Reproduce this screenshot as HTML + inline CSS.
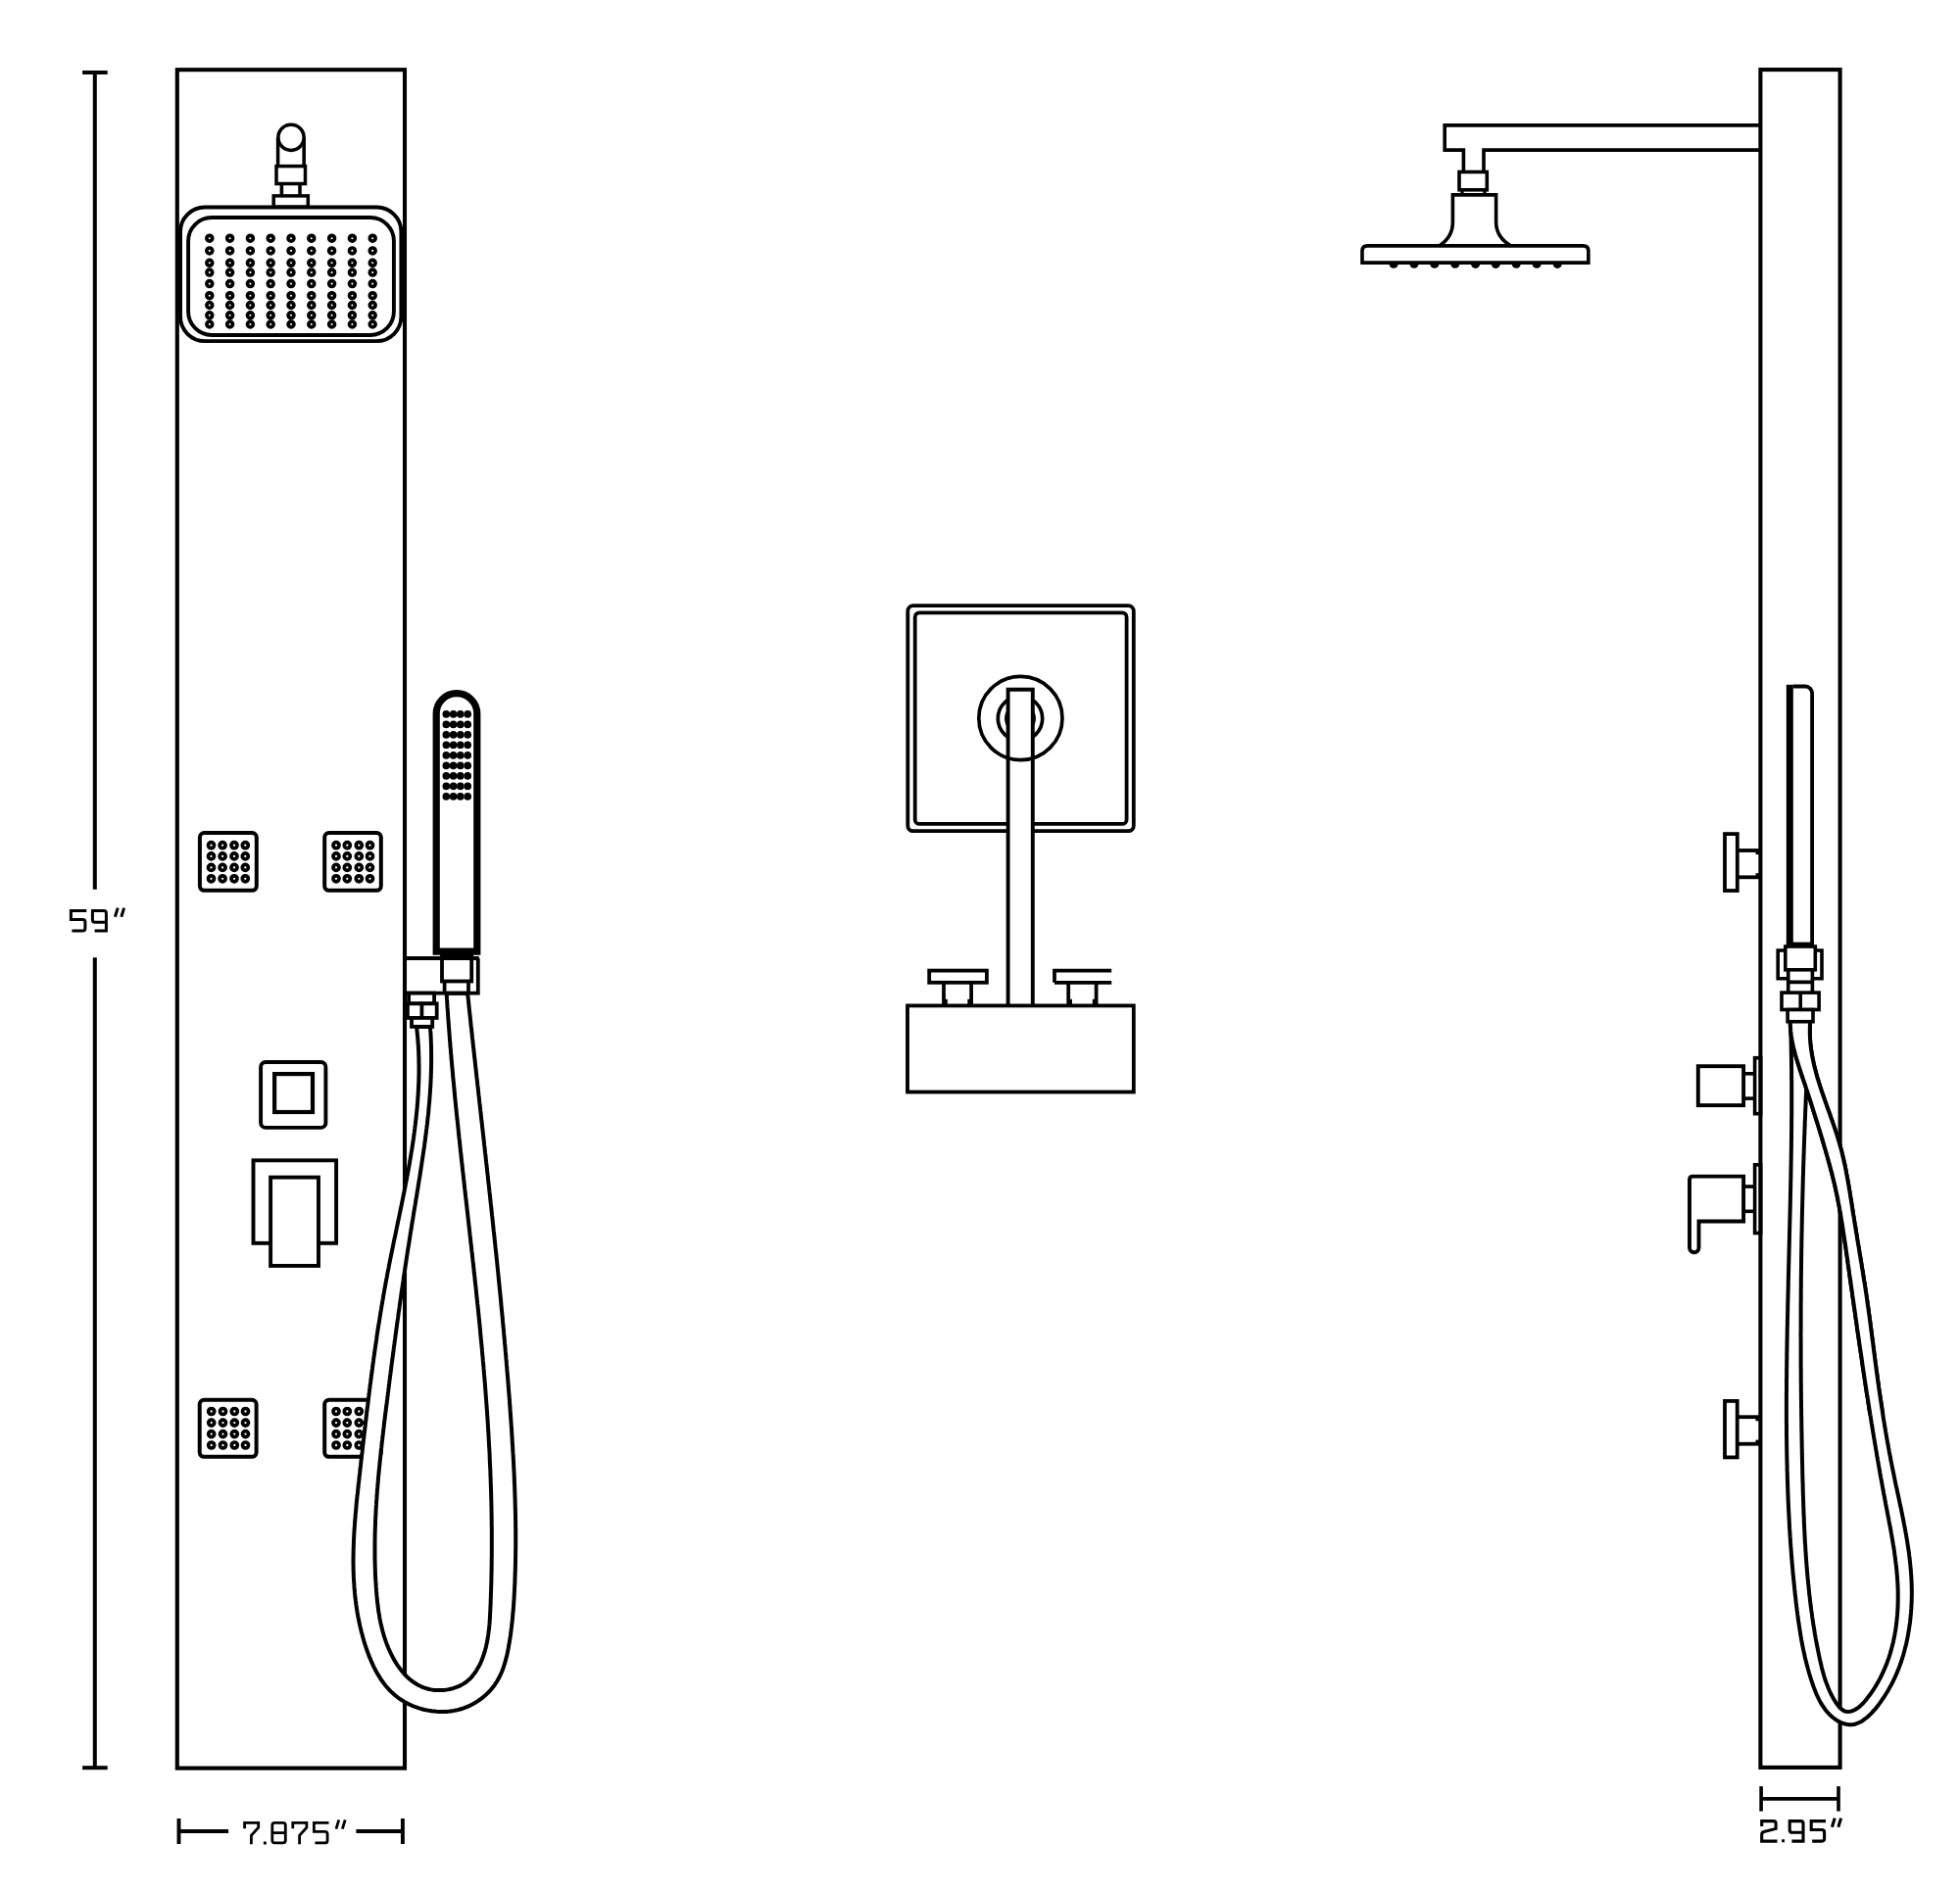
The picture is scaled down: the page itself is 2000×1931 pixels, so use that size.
<!DOCTYPE html>
<html><head><meta charset="utf-8"><title>Shower panel diagram</title>
<style>html,body{margin:0;padding:0;background:#fff;}svg{display:block;}</style></head>
<body><svg width="2000" height="1931" viewBox="0 0 2000 1931">
<rect x="0" y="0" width="2000" height="1931" fill="#fff"/>
<g stroke="#000" stroke-linecap="butt" stroke-linejoin="miter" fill="none">
<line x1="96.8" y1="74" x2="96.8" y2="907.7" stroke-width="4"/>
<line x1="96.8" y1="977.3" x2="96.8" y2="1804.2" stroke-width="4"/>
<line x1="84.1" y1="74" x2="109.7" y2="74" stroke-width="4"/>
<line x1="84.1" y1="1804.2" x2="109.7" y2="1804.2" stroke-width="4"/>
<path d="M88.3,929.6 H72.4 V938.5 H84.4 Q86.9,938.5 86.9,941 V947.6 Q86.9,950.1 84.4,950.1 H73.4 M93,929.6 H105.9 Q108.4,929.6 108.4,932.1 V950.1 H96.6 M94.4,929.6 V938.7 Q94.4,941.3 96.9,941.3 H108.4 M120.2,926.6 L117.4,935.8 M126.6,926.6 L123.8,935.8" fill="none" stroke-width="3"/>
<rect x="180.8" y="71.2" width="232.2" height="1733.4" fill="none" stroke-width="4.1"/>
<line x1="182.5" y1="1856" x2="182.5" y2="1882" stroke-width="3.9"/>
<line x1="410.9" y1="1856" x2="410.9" y2="1882" stroke-width="3.9"/>
<line x1="182.5" y1="1869" x2="233.1" y2="1869" stroke-width="3.9"/>
<line x1="363.4" y1="1869" x2="410.9" y2="1869" stroke-width="3.9"/>
<path d="M249.6,1866.3 V1860.4 H263.7 V1865.3 L256.4,1873.3 V1882.3 M268.9,1881 h2.9 M280.3,1860.4 H288.7 Q291.3,1860.4 291.3,1863 V1878.3 Q291.3,1880.9 288.7,1880.9 H280.3 Q277.8,1880.9 277.8,1878.3 V1863 Q277.8,1860.4 280.3,1860.4 Z M277.8,1870.6 H291.3 M298.8,1866.3 V1860.4 H312.9 V1865.3 L305.6,1873.3 V1882.3 M335.5,1860.4 H320.4 V1869.3 H331.6 Q334.1,1869.3 334.1,1871.8 V1878.4 Q334.1,1880.9 331.6,1880.9 H321.4 M345.8,1857.4 L343,1866.6 M352.2,1857.4 L349.4,1866.6" fill="none" stroke-width="2.8"/>
<path d="M283.6,140.3 V169.6 M310.2,140.3 V169.6" fill="none" stroke-width="3.55"/>
<circle cx="297" cy="140.3" r="13.1" fill="#fff" stroke-width="3.55"/>
<rect x="282" y="169.6" width="29.5" height="17.9" fill="none" stroke-width="3.5"/>
<path d="M287.4,187.5 V199.9 M306,187.5 V199.9" fill="none" stroke-width="3.55"/>
<rect x="279.2" y="199.9" width="35.1" height="11.3" fill="none" stroke-width="3.5"/>
<rect x="184" y="211.5" width="225.4" height="136.6" rx="25" fill="#fff" stroke-width="3.9"/>
<rect x="192.1" y="222" width="209.8" height="120" rx="24" fill="none" stroke-width="3.9"/>
<circle cx="213.8" cy="243.2" r="2.9" fill="none" stroke-width="3.7"/>
<circle cx="213.8" cy="255.9" r="2.9" fill="none" stroke-width="3.7"/>
<circle cx="213.8" cy="268.3" r="2.9" fill="none" stroke-width="3.7"/>
<circle cx="213.8" cy="278.1" r="2.9" fill="none" stroke-width="3.7"/>
<circle cx="213.8" cy="289.6" r="2.9" fill="none" stroke-width="3.7"/>
<circle cx="213.8" cy="301.7" r="2.9" fill="none" stroke-width="3.7"/>
<circle cx="213.8" cy="311.5" r="2.9" fill="none" stroke-width="3.7"/>
<circle cx="213.8" cy="321.8" r="2.9" fill="none" stroke-width="3.7"/>
<circle cx="213.8" cy="331" r="2.9" fill="none" stroke-width="3.7"/>
<circle cx="234.6" cy="243.2" r="2.9" fill="none" stroke-width="3.7"/>
<circle cx="234.6" cy="255.9" r="2.9" fill="none" stroke-width="3.7"/>
<circle cx="234.6" cy="268.3" r="2.9" fill="none" stroke-width="3.7"/>
<circle cx="234.6" cy="278.1" r="2.9" fill="none" stroke-width="3.7"/>
<circle cx="234.6" cy="289.6" r="2.9" fill="none" stroke-width="3.7"/>
<circle cx="234.6" cy="301.7" r="2.9" fill="none" stroke-width="3.7"/>
<circle cx="234.6" cy="311.5" r="2.9" fill="none" stroke-width="3.7"/>
<circle cx="234.6" cy="321.8" r="2.9" fill="none" stroke-width="3.7"/>
<circle cx="234.6" cy="331" r="2.9" fill="none" stroke-width="3.7"/>
<circle cx="255.4" cy="243.2" r="2.9" fill="none" stroke-width="3.7"/>
<circle cx="255.4" cy="255.9" r="2.9" fill="none" stroke-width="3.7"/>
<circle cx="255.4" cy="268.3" r="2.9" fill="none" stroke-width="3.7"/>
<circle cx="255.4" cy="278.1" r="2.9" fill="none" stroke-width="3.7"/>
<circle cx="255.4" cy="289.6" r="2.9" fill="none" stroke-width="3.7"/>
<circle cx="255.4" cy="301.7" r="2.9" fill="none" stroke-width="3.7"/>
<circle cx="255.4" cy="311.5" r="2.9" fill="none" stroke-width="3.7"/>
<circle cx="255.4" cy="321.8" r="2.9" fill="none" stroke-width="3.7"/>
<circle cx="255.4" cy="331" r="2.9" fill="none" stroke-width="3.7"/>
<circle cx="276.2" cy="243.2" r="2.9" fill="none" stroke-width="3.7"/>
<circle cx="276.2" cy="255.9" r="2.9" fill="none" stroke-width="3.7"/>
<circle cx="276.2" cy="268.3" r="2.9" fill="none" stroke-width="3.7"/>
<circle cx="276.2" cy="278.1" r="2.9" fill="none" stroke-width="3.7"/>
<circle cx="276.2" cy="289.6" r="2.9" fill="none" stroke-width="3.7"/>
<circle cx="276.2" cy="301.7" r="2.9" fill="none" stroke-width="3.7"/>
<circle cx="276.2" cy="311.5" r="2.9" fill="none" stroke-width="3.7"/>
<circle cx="276.2" cy="321.8" r="2.9" fill="none" stroke-width="3.7"/>
<circle cx="276.2" cy="331" r="2.9" fill="none" stroke-width="3.7"/>
<circle cx="297" cy="243.2" r="2.9" fill="none" stroke-width="3.7"/>
<circle cx="297" cy="255.9" r="2.9" fill="none" stroke-width="3.7"/>
<circle cx="297" cy="268.3" r="2.9" fill="none" stroke-width="3.7"/>
<circle cx="297" cy="278.1" r="2.9" fill="none" stroke-width="3.7"/>
<circle cx="297" cy="289.6" r="2.9" fill="none" stroke-width="3.7"/>
<circle cx="297" cy="301.7" r="2.9" fill="none" stroke-width="3.7"/>
<circle cx="297" cy="311.5" r="2.9" fill="none" stroke-width="3.7"/>
<circle cx="297" cy="321.8" r="2.9" fill="none" stroke-width="3.7"/>
<circle cx="297" cy="331" r="2.9" fill="none" stroke-width="3.7"/>
<circle cx="317.8" cy="243.2" r="2.9" fill="none" stroke-width="3.7"/>
<circle cx="317.8" cy="255.9" r="2.9" fill="none" stroke-width="3.7"/>
<circle cx="317.8" cy="268.3" r="2.9" fill="none" stroke-width="3.7"/>
<circle cx="317.8" cy="278.1" r="2.9" fill="none" stroke-width="3.7"/>
<circle cx="317.8" cy="289.6" r="2.9" fill="none" stroke-width="3.7"/>
<circle cx="317.8" cy="301.7" r="2.9" fill="none" stroke-width="3.7"/>
<circle cx="317.8" cy="311.5" r="2.9" fill="none" stroke-width="3.7"/>
<circle cx="317.8" cy="321.8" r="2.9" fill="none" stroke-width="3.7"/>
<circle cx="317.8" cy="331" r="2.9" fill="none" stroke-width="3.7"/>
<circle cx="338.6" cy="243.2" r="2.9" fill="none" stroke-width="3.7"/>
<circle cx="338.6" cy="255.9" r="2.9" fill="none" stroke-width="3.7"/>
<circle cx="338.6" cy="268.3" r="2.9" fill="none" stroke-width="3.7"/>
<circle cx="338.6" cy="278.1" r="2.9" fill="none" stroke-width="3.7"/>
<circle cx="338.6" cy="289.6" r="2.9" fill="none" stroke-width="3.7"/>
<circle cx="338.6" cy="301.7" r="2.9" fill="none" stroke-width="3.7"/>
<circle cx="338.6" cy="311.5" r="2.9" fill="none" stroke-width="3.7"/>
<circle cx="338.6" cy="321.8" r="2.9" fill="none" stroke-width="3.7"/>
<circle cx="338.6" cy="331" r="2.9" fill="none" stroke-width="3.7"/>
<circle cx="359.4" cy="243.2" r="2.9" fill="none" stroke-width="3.7"/>
<circle cx="359.4" cy="255.9" r="2.9" fill="none" stroke-width="3.7"/>
<circle cx="359.4" cy="268.3" r="2.9" fill="none" stroke-width="3.7"/>
<circle cx="359.4" cy="278.1" r="2.9" fill="none" stroke-width="3.7"/>
<circle cx="359.4" cy="289.6" r="2.9" fill="none" stroke-width="3.7"/>
<circle cx="359.4" cy="301.7" r="2.9" fill="none" stroke-width="3.7"/>
<circle cx="359.4" cy="311.5" r="2.9" fill="none" stroke-width="3.7"/>
<circle cx="359.4" cy="321.8" r="2.9" fill="none" stroke-width="3.7"/>
<circle cx="359.4" cy="331" r="2.9" fill="none" stroke-width="3.7"/>
<circle cx="380.2" cy="243.2" r="2.9" fill="none" stroke-width="3.7"/>
<circle cx="380.2" cy="255.9" r="2.9" fill="none" stroke-width="3.7"/>
<circle cx="380.2" cy="268.3" r="2.9" fill="none" stroke-width="3.7"/>
<circle cx="380.2" cy="278.1" r="2.9" fill="none" stroke-width="3.7"/>
<circle cx="380.2" cy="289.6" r="2.9" fill="none" stroke-width="3.7"/>
<circle cx="380.2" cy="301.7" r="2.9" fill="none" stroke-width="3.7"/>
<circle cx="380.2" cy="311.5" r="2.9" fill="none" stroke-width="3.7"/>
<circle cx="380.2" cy="321.8" r="2.9" fill="none" stroke-width="3.7"/>
<circle cx="380.2" cy="331" r="2.9" fill="none" stroke-width="3.7"/>
<rect x="203.9" y="850" width="57.9" height="58.8" rx="4.5" fill="none" stroke-width="4"/>
<circle cx="215.5" cy="862.7" r="3" fill="none" stroke-width="3.7"/>
<circle cx="215.5" cy="873.9" r="3" fill="none" stroke-width="3.7"/>
<circle cx="215.5" cy="885.4" r="3" fill="none" stroke-width="3.7"/>
<circle cx="215.5" cy="896.8" r="3" fill="none" stroke-width="3.7"/>
<circle cx="227.1" cy="862.7" r="3" fill="none" stroke-width="3.7"/>
<circle cx="227.1" cy="873.9" r="3" fill="none" stroke-width="3.7"/>
<circle cx="227.1" cy="885.4" r="3" fill="none" stroke-width="3.7"/>
<circle cx="227.1" cy="896.8" r="3" fill="none" stroke-width="3.7"/>
<circle cx="239" cy="862.7" r="3" fill="none" stroke-width="3.7"/>
<circle cx="239" cy="873.9" r="3" fill="none" stroke-width="3.7"/>
<circle cx="239" cy="885.4" r="3" fill="none" stroke-width="3.7"/>
<circle cx="239" cy="896.8" r="3" fill="none" stroke-width="3.7"/>
<circle cx="250.3" cy="862.7" r="3" fill="none" stroke-width="3.7"/>
<circle cx="250.3" cy="873.9" r="3" fill="none" stroke-width="3.7"/>
<circle cx="250.3" cy="885.4" r="3" fill="none" stroke-width="3.7"/>
<circle cx="250.3" cy="896.8" r="3" fill="none" stroke-width="3.7"/>
<rect x="331.2" y="850" width="57.6" height="58.8" rx="4.5" fill="none" stroke-width="4"/>
<circle cx="343" cy="862.7" r="3" fill="none" stroke-width="3.7"/>
<circle cx="343" cy="873.9" r="3" fill="none" stroke-width="3.7"/>
<circle cx="343" cy="885.4" r="3" fill="none" stroke-width="3.7"/>
<circle cx="343" cy="896.8" r="3" fill="none" stroke-width="3.7"/>
<circle cx="354.3" cy="862.7" r="3" fill="none" stroke-width="3.7"/>
<circle cx="354.3" cy="873.9" r="3" fill="none" stroke-width="3.7"/>
<circle cx="354.3" cy="885.4" r="3" fill="none" stroke-width="3.7"/>
<circle cx="354.3" cy="896.8" r="3" fill="none" stroke-width="3.7"/>
<circle cx="366.3" cy="862.7" r="3" fill="none" stroke-width="3.7"/>
<circle cx="366.3" cy="873.9" r="3" fill="none" stroke-width="3.7"/>
<circle cx="366.3" cy="885.4" r="3" fill="none" stroke-width="3.7"/>
<circle cx="366.3" cy="896.8" r="3" fill="none" stroke-width="3.7"/>
<circle cx="377.5" cy="862.7" r="3" fill="none" stroke-width="3.7"/>
<circle cx="377.5" cy="873.9" r="3" fill="none" stroke-width="3.7"/>
<circle cx="377.5" cy="885.4" r="3" fill="none" stroke-width="3.7"/>
<circle cx="377.5" cy="896.8" r="3" fill="none" stroke-width="3.7"/>
<rect x="203.7" y="1428.8" width="57.9" height="58" rx="4.5" fill="none" stroke-width="4"/>
<circle cx="215.7" cy="1440.5" r="3" fill="none" stroke-width="3.7"/>
<circle cx="215.7" cy="1452.1" r="3" fill="none" stroke-width="3.7"/>
<circle cx="215.7" cy="1463.6" r="3" fill="none" stroke-width="3.7"/>
<circle cx="215.7" cy="1475" r="3" fill="none" stroke-width="3.7"/>
<circle cx="227.5" cy="1440.5" r="3" fill="none" stroke-width="3.7"/>
<circle cx="227.5" cy="1452.1" r="3" fill="none" stroke-width="3.7"/>
<circle cx="227.5" cy="1463.6" r="3" fill="none" stroke-width="3.7"/>
<circle cx="227.5" cy="1475" r="3" fill="none" stroke-width="3.7"/>
<circle cx="239.3" cy="1440.5" r="3" fill="none" stroke-width="3.7"/>
<circle cx="239.3" cy="1452.1" r="3" fill="none" stroke-width="3.7"/>
<circle cx="239.3" cy="1463.6" r="3" fill="none" stroke-width="3.7"/>
<circle cx="239.3" cy="1475" r="3" fill="none" stroke-width="3.7"/>
<circle cx="250.5" cy="1440.5" r="3" fill="none" stroke-width="3.7"/>
<circle cx="250.5" cy="1452.1" r="3" fill="none" stroke-width="3.7"/>
<circle cx="250.5" cy="1463.6" r="3" fill="none" stroke-width="3.7"/>
<circle cx="250.5" cy="1475" r="3" fill="none" stroke-width="3.7"/>
<rect x="331.2" y="1428.8" width="57.6" height="58" rx="4.5" fill="none" stroke-width="4"/>
<circle cx="343" cy="1440.5" r="3" fill="none" stroke-width="3.7"/>
<circle cx="343" cy="1452.1" r="3" fill="none" stroke-width="3.7"/>
<circle cx="343" cy="1463.6" r="3" fill="none" stroke-width="3.7"/>
<circle cx="343" cy="1475" r="3" fill="none" stroke-width="3.7"/>
<circle cx="354.3" cy="1440.5" r="3" fill="none" stroke-width="3.7"/>
<circle cx="354.3" cy="1452.1" r="3" fill="none" stroke-width="3.7"/>
<circle cx="354.3" cy="1463.6" r="3" fill="none" stroke-width="3.7"/>
<circle cx="354.3" cy="1475" r="3" fill="none" stroke-width="3.7"/>
<circle cx="366.3" cy="1440.5" r="3" fill="none" stroke-width="3.7"/>
<circle cx="366.3" cy="1452.1" r="3" fill="none" stroke-width="3.7"/>
<circle cx="366.3" cy="1463.6" r="3" fill="none" stroke-width="3.7"/>
<circle cx="366.3" cy="1475" r="3" fill="none" stroke-width="3.7"/>
<circle cx="377.5" cy="1440.5" r="3" fill="none" stroke-width="3.7"/>
<circle cx="377.5" cy="1452.1" r="3" fill="none" stroke-width="3.7"/>
<circle cx="377.5" cy="1463.6" r="3" fill="none" stroke-width="3.7"/>
<circle cx="377.5" cy="1475" r="3" fill="none" stroke-width="3.7"/>
<rect x="266.1" y="1084" width="66.3" height="66.9" rx="5" fill="none" stroke-width="3.9"/>
<rect x="280.1" y="1096.1" width="38.9" height="38.9" fill="none" stroke-width="4.2"/>
<rect x="258.5" y="1184.3" width="84.6" height="84.5" fill="none" stroke-width="3.9"/>
<rect x="276.1" y="1201.6" width="48.9" height="90.3" fill="#fff" stroke-width="3.9"/>
<path d="M425.1,1047.8 L425.3,1049.9 L425.5,1051.9 L425.7,1053.9 L425.9,1055.9 L426.1,1057.9 L426.3,1059.9 L426.4,1062 L426.6,1064 L426.7,1066 L426.9,1068 L427,1070 L427.1,1072 L427.2,1074 L427.2,1076 L427.3,1078 L427.4,1080 L427.4,1082 L427.4,1084.1 L427.5,1086.1 L427.5,1088.1 L427.5,1090.1 L427.5,1092.1 L427.5,1094.1 L427.5,1096.1 L427.4,1098.1 L427.4,1100.1 L427.3,1102.1 L427.3,1104.1 L427.2,1106.1 L427.1,1108.1 L427,1110 L426.9,1112 L426.8,1114 L426.7,1116 L426.6,1118 L426.4,1120 L426.3,1122 L426.2,1124 L426,1126 L425.8,1128 L425.7,1130 L425.5,1131.9 L425.3,1133.9 L425.1,1135.9 L424.9,1137.9 L424.7,1139.9 L424.5,1141.9 L424.2,1143.9 L424,1145.8 L423.8,1147.8 L423.5,1149.8 L423.3,1151.8 L423,1153.8 L422.8,1155.8 L422.5,1157.7 L422.2,1159.7 L422,1161.7 L421.7,1163.7 L421.4,1165.7 L421.1,1167.6 L420.8,1169.6 L420.5,1171.6 L420.2,1173.6 L419.8,1175.5 L419.5,1177.5 L419.2,1179.5 L418.9,1181.5 L418.5,1183.5 L418.2,1185.4 L417.9,1187.4 L417.5,1189.4 L417.2,1191.4 L416.8,1193.3 L416.4,1195.3 L416.1,1197.3 L415.7,1199.2 L415.3,1201.2 L415,1203.2 L414.6,1205.2 L414.2,1207.1 L413.8,1209.1 L413.5,1211.1 L413.1,1213 L412.7,1215 L412.3,1217 L411.9,1219 L411.5,1220.9 L411.1,1222.9 L410.7,1224.9 L410.3,1226.8 L409.9,1228.8 L409.5,1230.8 L409.1,1232.7 L408.7,1234.7 L408.3,1236.7 L407.9,1238.7 L407.5,1240.6 L407.1,1242.6 L406.7,1244.6 L406.2,1246.5 L405.8,1248.5 L405.4,1250.5 L405,1252.4 L404.6,1254.4 L404.2,1256.4 L403.8,1258.3 L403.4,1260.3 L403,1262.3 L402.5,1264.2 L402.1,1266.2 L401.7,1268.2 L401.3,1270.1 L400.9,1272.1 L400.5,1274.1 L400.1,1276 L399.7,1278 L399.3,1280 L398.9,1282 L398.5,1283.9 L398.1,1285.9 L397.7,1287.9 L397.3,1289.8 L396.9,1291.8 L396.6,1293.8 L396.2,1295.7 L395.8,1297.7 L395.4,1299.7 L395,1301.6 L394.7,1303.6 L394.3,1305.6 L393.9,1307.6 L393.6,1309.5 L393.2,1311.5 L392.9,1313.5 L392.5,1315.4 L392.1,1317.4 L391.8,1319.4 L391.4,1321.4 L391.1,1323.3 L390.8,1325.3 L390.4,1327.3 L390.1,1329.2 L389.8,1331.2 L389.4,1333.2 L389.1,1335.2 L388.8,1337.1 L388.4,1339.1 L388.1,1341.1 L387.8,1343.1 L387.5,1345 L387.2,1347 L386.9,1349 L386.6,1351 L386.2,1352.9 L385.9,1354.9 L385.6,1356.9 L385.3,1358.9 L385,1360.8 L384.7,1362.8 L384.4,1364.8 L384.2,1366.8 L383.9,1368.7 L383.6,1370.7 L383.3,1372.7 L383,1374.7 L382.7,1376.7 L382.4,1378.6 L382.2,1380.6 L381.9,1382.6 L381.6,1384.6 L381.3,1386.5 L381.1,1388.5 L380.8,1390.5 L380.5,1392.5 L380.2,1394.5 L380,1396.5 L379.7,1398.4 L379.5,1400.4 L379.2,1402.4 L378.9,1404.4 L378.7,1406.4 L378.4,1408.3 L378.2,1410.3 L377.9,1412.3 L377.6,1414.3 L377.4,1416.3 L377.1,1418.3 L376.9,1420.3 L376.6,1422.2 L376.4,1424.2 L376.1,1426.2 L375.9,1428.2 L375.7,1430.2 L375.4,1432.2 L375.2,1434.2 L374.9,1436.1 L374.7,1438.1 L374.4,1440.1 L374.2,1442.1 L374,1444.1 L373.7,1446.1 L373.5,1448.1 L373.3,1450.1 L373,1452.1 L372.8,1454.1 L372.6,1456 L372.3,1458 L372.1,1460 L371.9,1462 L371.6,1464 L371.4,1466 L371.2,1468 L370.9,1470 L370.7,1472 L370.5,1474 L370.2,1476 L370,1478 L369.8,1480 L369.6,1482 L369.3,1484 L369.1,1486 L368.9,1488 L368.6,1490 L368.4,1492 L368.2,1494 L368,1496 L367.7,1498 L367.5,1500 L367.3,1502 L367.1,1504 L366.8,1506 L366.6,1508 L366.4,1510 L366.2,1512 L365.9,1514 L365.7,1516 L365.5,1518 L365.3,1520 L365.1,1522 L364.9,1524 L364.6,1526 L364.4,1528 L364.2,1530 L364,1532 L363.8,1534 L363.6,1536 L363.5,1538 L363.3,1540 L363.1,1542.1 L362.9,1544.1 L362.7,1546.1 L362.6,1548.1 L362.4,1550.1 L362.2,1552.1 L362.1,1554.1 L362,1556.1 L361.8,1558.1 L361.7,1560.1 L361.5,1562.1 L361.4,1564.1 L361.3,1566.1 L361.2,1568.1 L361.1,1570.1 L361,1572.1 L360.9,1574.1 L360.9,1576.1 L360.8,1578.1 L360.7,1580.1 L360.7,1582.1 L360.6,1584.1 L360.6,1586.1 L360.6,1588.1 L360.5,1590.1 L360.5,1592.1 L360.5,1594.1 L360.5,1596.1 L360.6,1598.1 L360.6,1600.1 L360.6,1602.1 L360.7,1604.1 L360.8,1606 L360.8,1608 L360.9,1610 L361,1612 L361.1,1614 L361.3,1616 L361.4,1618 L361.5,1619.9 L361.7,1621.9 L361.9,1623.9 L362,1625.9 L362.2,1627.9 L362.4,1629.9 L362.7,1631.8 L362.9,1633.8 L363.2,1635.8 L363.4,1637.8 L363.7,1639.7 L364,1641.7 L364.3,1643.7 L364.6,1645.6 L365,1647.6 L365.3,1649.6 L365.7,1651.5 L366.1,1653.5 L366.5,1655.5 L366.9,1657.4 L367.3,1659.4 L367.8,1661.3 L368.3,1663.3 L368.7,1665.2 L369.3,1667.2 L369.8,1669.1 L370.3,1671.1 L370.9,1673 L371.4,1675 L372,1676.9 L372.6,1678.9 L373.3,1680.8 L373.9,1682.8 L374.6,1684.7 L375.3,1686.6 L376,1688.5 L376.7,1690.4 L377.5,1692.3 L378.3,1694.2 L379.1,1696.1 L379.9,1698 L380.8,1699.8 L381.6,1701.6 L382.6,1703.4 L383.5,1705.2 L384.5,1707 L385.5,1708.7 L386.5,1710.4 L387.6,1712.1 L388.6,1713.8 L389.8,1715.5 L390.9,1717.1 L392.1,1718.6 L393.3,1720.2 L394.6,1721.7 L395.9,1723.2 L397.2,1724.6 L398.6,1726.1 L400,1727.4 L401.5,1728.8 L402.9,1730 L404.5,1731.3 L406,1732.5 L407.6,1733.7 L409.3,1734.8 L411,1735.8 L412.7,1736.9 L414.4,1737.8 L416.2,1738.8 L418,1739.7 L419.8,1740.5 L421.7,1741.3 L423.5,1742 L425.4,1742.7 L427.4,1743.4 L429.3,1743.9 L431.3,1744.5 L433.2,1745 L435.2,1745.4 L437.2,1745.8 L439.2,1746.1 L441.2,1746.4 L443.2,1746.6 L445.3,1746.8 L447.3,1746.9 L449.3,1747 L451.3,1747 L453.4,1747 L455.4,1746.9 L457.4,1746.7 L459.4,1746.5 L461.4,1746.2 L463.4,1745.9 L465.4,1745.5 L467.3,1745.1 L469.3,1744.5 L471.2,1744 L473.1,1743.3 L475,1742.6 L476.9,1741.9 L478.7,1741.1 L480.5,1740.2 L482.3,1739.3 L484.1,1738.3 L485.8,1737.3 L487.5,1736.2 L489.2,1735 L490.8,1733.9 L492.4,1732.6 L494,1731.3 L495.5,1730 L496.9,1728.6 L498.4,1727.2 L499.8,1725.8 L501.1,1724.3 L502.4,1722.7 L503.6,1721.2 L504.8,1719.6 L505.9,1717.9 L507,1716.3 L508,1714.6 L508.9,1712.8 L509.9,1711.1 L510.7,1709.3 L511.5,1707.5 L512.3,1705.7 L513,1703.8 L513.7,1701.9 L514.3,1700 L514.9,1698.1 L515.5,1696.2 L516,1694.3 L516.5,1692.3 L517,1690.4 L517.5,1688.4 L517.9,1686.4 L518.3,1684.4 L518.7,1682.4 L519,1680.4 L519.4,1678.5 L519.7,1676.5 L520.1,1674.5 L520.4,1672.5 L520.7,1670.5 L521,1668.5 L521.2,1666.5 L521.5,1664.5 L521.7,1662.5 L522,1660.5 L522.2,1658.5 L522.4,1656.5 L522.7,1654.5 L522.9,1652.5 L523.1,1650.5 L523.2,1648.5 L523.4,1646.5 L523.6,1644.5 L523.8,1642.5 L523.9,1640.5 L524.1,1638.5 L524.2,1636.5 L524.3,1634.5 L524.5,1632.5 L524.6,1630.5 L524.7,1628.5 L524.8,1626.5 L524.9,1624.5 L525,1622.5 L525.1,1620.5 L525.2,1618.5 L525.3,1616.5 L525.4,1614.5 L525.4,1612.5 L525.5,1610.5 L525.6,1608.5 L525.6,1606.5 L525.7,1604.5 L525.8,1602.5 L525.8,1600.5 L525.9,1598.5 L525.9,1596.5 L526,1594.5 L526,1592.5 L526,1590.5 L526.1,1588.5 L526.1,1586.5 L526.1,1584.5 L526.1,1582.5 L526.2,1580.5 L526.2,1578.5 L526.2,1576.5 L526.2,1574.5 L526.2,1572.5 L526.2,1570.5 L526.2,1568.5 L526.2,1566.4 L526.2,1564.4 L526.2,1562.4 L526.2,1560.4 L526.1,1558.4 L526.1,1556.4 L526.1,1554.4 L526.1,1552.4 L526,1550.4 L526,1548.4 L526,1546.4 L525.9,1544.4 L525.9,1542.4 L525.8,1540.4 L525.8,1538.4 L525.7,1536.4 L525.7,1534.4 L525.6,1532.4 L525.6,1530.4 L525.5,1528.4 L525.4,1526.4 L525.4,1524.4 L525.3,1522.4 L525.2,1520.4 L525.2,1518.4 L525.1,1516.4 L525,1514.4 L524.9,1512.4 L524.8,1510.4 L524.8,1508.4 L524.7,1506.4 L524.6,1504.4 L524.5,1502.4 L524.4,1500.4 L524.3,1498.4 L524.2,1496.4 L524.1,1494.4 L524,1492.4 L523.9,1490.4 L523.8,1488.4 L523.7,1486.4 L523.6,1484.4 L523.4,1482.4 L523.3,1480.3 L523.2,1478.3 L523.1,1476.3 L523,1474.3 L522.8,1472.3 L522.7,1470.3 L522.6,1468.3 L522.5,1466.3 L522.3,1464.3 L522.2,1462.3 L522.1,1460.3 L522,1458.3 L521.8,1456.3 L521.7,1454.3 L521.5,1452.3 L521.4,1450.3 L521.3,1448.3 L521.1,1446.3 L521,1444.3 L520.8,1442.3 L520.7,1440.3 L520.6,1438.3 L520.4,1436.3 L520.3,1434.3 L520.1,1432.3 L520,1430.3 L519.8,1428.3 L519.7,1426.3 L519.5,1424.3 L519.4,1422.3 L519.2,1420.3 L519,1418.3 L518.9,1416.3 L518.7,1414.3 L518.6,1412.3 L518.4,1410.3 L518.3,1408.3 L518.1,1406.3 L517.9,1404.3 L517.8,1402.3 L517.6,1400.3 L517.4,1398.4 L517.3,1396.4 L517.1,1394.4 L516.9,1392.4 L516.8,1390.4 L516.6,1388.4 L516.4,1386.4 L516.3,1384.4 L516.1,1382.4 L515.9,1380.4 L515.7,1378.4 L515.6,1376.4 L515.4,1374.4 L515.2,1372.4 L515,1370.4 L514.9,1368.4 L514.7,1366.4 L514.5,1364.4 L514.3,1362.4 L514.1,1360.4 L514,1358.4 L513.8,1356.4 L513.6,1354.4 L513.4,1352.4 L513.2,1350.4 L513,1348.4 L512.9,1346.4 L512.7,1344.4 L512.5,1342.4 L512.3,1340.4 L512.1,1338.5 L511.9,1336.5 L511.7,1334.5 L511.5,1332.5 L511.3,1330.5 L511.2,1328.5 L511,1326.5 L510.8,1324.5 L510.6,1322.5 L510.4,1320.5 L510.2,1318.5 L510,1316.5 L509.8,1314.5 L509.6,1312.5 L509.4,1310.5 L509.2,1308.5 L509,1306.5 L508.8,1304.5 L508.6,1302.5 L508.4,1300.5 L508.2,1298.6 L508,1296.6 L507.8,1294.6 L507.6,1292.6 L507.4,1290.6 L507.2,1288.6 L507,1286.6 L506.8,1284.6 L506.6,1282.6 L506.4,1280.6 L506.2,1278.6 L505.9,1276.6 L505.7,1274.6 L505.5,1272.6 L505.3,1270.6 L505.1,1268.6 L504.9,1266.7 L504.7,1264.7 L504.5,1262.7 L504.3,1260.7 L504.1,1258.7 L503.8,1256.7 L503.6,1254.7 L503.4,1252.7 L503.2,1250.7 L503,1248.7 L502.8,1246.7 L502.6,1244.7 L502.4,1242.7 L502.1,1240.7 L501.9,1238.8 L501.7,1236.8 L501.5,1234.8 L501.3,1232.8 L501.1,1230.8 L500.8,1228.8 L500.6,1226.8 L500.4,1224.8 L500.2,1222.8 L500,1220.8 L499.8,1218.8 L499.5,1216.8 L499.3,1214.8 L499.1,1212.9 L498.9,1210.9 L498.7,1208.9 L498.4,1206.9 L498.2,1204.9 L498,1202.9 L497.8,1200.9 L497.6,1198.9 L497.3,1196.9 L497.1,1194.9 L496.9,1192.9 L496.7,1190.9 L496.5,1188.9 L496.2,1187 L496,1185 L495.8,1183 L495.6,1181 L495.4,1179 L495.1,1177 L494.9,1175 L494.7,1173 L494.5,1171 L494.2,1169 L494,1167 L493.8,1165 L493.6,1163.1 L493.4,1161.1 L493.1,1159.1 L492.9,1157.1 L492.7,1155.1 L492.5,1153.1 L492.2,1151.1 L492,1149.1 L491.8,1147.1 L491.6,1145.1 L491.3,1143.1 L491.1,1141.1 L490.9,1139.2 L490.7,1137.2 L490.5,1135.2 L490.2,1133.2 L490,1131.2 L489.8,1129.2 L489.6,1127.2 L489.3,1125.2 L489.1,1123.2 L488.9,1121.2 L488.7,1119.2 L488.4,1117.2 L488.2,1115.3 L488,1113.3 L487.8,1111.3 L487.6,1109.3 L487.3,1107.3 L487.1,1105.3 L486.9,1103.3 L486.7,1101.3 L486.4,1099.3 L486.2,1097.3 L486,1095.3 L485.8,1093.3 L485.6,1091.4 L485.3,1089.4 L485.1,1087.4 L484.9,1085.4 L484.7,1083.4 L484.5,1081.4 L484.2,1079.4 L484,1077.4 L483.8,1075.4 L483.6,1073.4 L483.4,1071.4 L483.1,1069.4 L482.9,1067.5 L482.7,1065.5 L482.5,1063.5 L482.3,1061.5 L482,1059.5 L481.8,1057.5 L481.6,1055.5 L481.4,1053.5 L481.2,1051.5 L481,1049.5 L480.7,1047.5 L480.5,1045.5 L480.3,1043.6 L480.1,1041.6 L479.9,1039.6 L479.7,1037.6 L479.5,1035.6 L479.2,1033.6 L479,1031.6 L478.8,1029.6 L478.6,1027.6 L478.4,1025.6 L478.2,1023.6 L478,1021.6 L477.8,1019.6 L477.6,1017.7 L477.3,1015.7 L477.1,1013.7 L455.7,1013.7 L455.8,1015.7 L455.9,1017.7 L456,1019.7 L456.2,1021.7 L456.3,1023.7 L456.4,1025.7 L456.5,1027.7 L456.7,1029.7 L456.8,1031.6 L457,1033.6 L457.1,1035.6 L457.2,1037.6 L457.4,1039.6 L457.5,1041.6 L457.7,1043.6 L457.8,1045.6 L458,1047.6 L458.1,1049.6 L458.3,1051.6 L458.4,1053.6 L458.6,1055.6 L458.7,1057.6 L458.9,1059.6 L459,1061.6 L459.2,1063.6 L459.4,1065.6 L459.5,1067.6 L459.7,1069.6 L459.9,1071.6 L460,1073.6 L460.2,1075.6 L460.4,1077.5 L460.5,1079.5 L460.7,1081.5 L460.9,1083.5 L461.1,1085.5 L461.2,1087.5 L461.4,1089.5 L461.6,1091.5 L461.8,1093.5 L462,1095.5 L462.1,1097.5 L462.3,1099.5 L462.5,1101.5 L462.7,1103.5 L462.9,1105.5 L463.1,1107.5 L463.3,1109.5 L463.5,1111.5 L463.7,1113.5 L463.8,1115.5 L464,1117.4 L464.2,1119.4 L464.4,1121.4 L464.6,1123.4 L464.8,1125.4 L465,1127.4 L465.2,1129.4 L465.4,1131.4 L465.6,1133.4 L465.8,1135.4 L466,1137.4 L466.2,1139.4 L466.4,1141.4 L466.7,1143.4 L466.9,1145.4 L467.1,1147.4 L467.3,1149.4 L467.5,1151.4 L467.7,1153.4 L467.9,1155.3 L468.1,1157.3 L468.3,1159.3 L468.5,1161.3 L468.8,1163.3 L469,1165.3 L469.2,1167.3 L469.4,1169.3 L469.6,1171.3 L469.8,1173.3 L470,1175.3 L470.3,1177.3 L470.5,1179.3 L470.7,1181.3 L470.9,1183.3 L471.1,1185.3 L471.4,1187.3 L471.6,1189.2 L471.8,1191.2 L472,1193.2 L472.2,1195.2 L472.5,1197.2 L472.7,1199.2 L472.9,1201.2 L473.1,1203.2 L473.4,1205.2 L473.6,1207.2 L473.8,1209.2 L474,1211.2 L474.2,1213.2 L474.5,1215.2 L474.7,1217.2 L474.9,1219.2 L475.1,1221.2 L475.4,1223.2 L475.6,1225.1 L475.8,1227.1 L476,1229.1 L476.3,1231.1 L476.5,1233.1 L476.7,1235.1 L476.9,1237.1 L477.2,1239.1 L477.4,1241.1 L477.6,1243.1 L477.8,1245.1 L478.1,1247.1 L478.3,1249.1 L478.5,1251.1 L478.7,1253.1 L479,1255.1 L479.2,1257.1 L479.4,1259 L479.6,1261 L479.9,1263 L480.1,1265 L480.3,1267 L480.5,1269 L480.8,1271 L481,1273 L481.2,1275 L481.4,1277 L481.7,1279 L481.9,1281 L482.1,1283 L482.3,1285 L482.5,1287 L482.8,1289 L483,1291 L483.2,1292.9 L483.4,1294.9 L483.6,1296.9 L483.8,1298.9 L484.1,1300.9 L484.3,1302.9 L484.5,1304.9 L484.7,1306.9 L484.9,1308.9 L485.1,1310.9 L485.4,1312.9 L485.6,1314.9 L485.8,1316.9 L486,1318.9 L486.2,1320.9 L486.4,1322.9 L486.6,1324.9 L486.8,1326.9 L487,1328.8 L487.2,1330.8 L487.5,1332.8 L487.7,1334.8 L487.9,1336.8 L488.1,1338.8 L488.3,1340.8 L488.5,1342.8 L488.7,1344.8 L488.9,1346.8 L489.1,1348.8 L489.3,1350.8 L489.5,1352.8 L489.7,1354.8 L489.9,1356.8 L490.1,1358.8 L490.2,1360.8 L490.4,1362.8 L490.6,1364.8 L490.8,1366.7 L491,1368.7 L491.2,1370.7 L491.4,1372.7 L491.6,1374.7 L491.8,1376.7 L491.9,1378.7 L492.1,1380.7 L492.3,1382.7 L492.5,1384.7 L492.7,1386.7 L492.8,1388.7 L493,1390.7 L493.2,1392.7 L493.4,1394.7 L493.5,1396.7 L493.7,1398.7 L493.9,1400.7 L494,1402.7 L494.2,1404.7 L494.4,1406.7 L494.5,1408.6 L494.7,1410.6 L494.9,1412.6 L495,1414.6 L495.2,1416.6 L495.3,1418.6 L495.5,1420.6 L495.6,1422.6 L495.8,1424.6 L495.9,1426.6 L496.1,1428.6 L496.2,1430.6 L496.4,1432.6 L496.5,1434.6 L496.7,1436.6 L496.8,1438.6 L497,1440.6 L497.1,1442.6 L497.2,1444.6 L497.4,1446.6 L497.5,1448.6 L497.6,1450.6 L497.8,1452.6 L497.9,1454.6 L498,1456.5 L498.1,1458.5 L498.2,1460.5 L498.4,1462.5 L498.5,1464.5 L498.6,1466.5 L498.7,1468.5 L498.8,1470.5 L498.9,1472.5 L499,1474.5 L499.1,1476.5 L499.3,1478.5 L499.4,1480.5 L499.5,1482.5 L499.6,1484.5 L499.7,1486.5 L499.7,1488.5 L499.8,1490.5 L499.9,1492.5 L500,1494.5 L500.1,1496.5 L500.2,1498.5 L500.3,1500.5 L500.4,1502.5 L500.4,1504.5 L500.5,1506.5 L500.6,1508.5 L500.7,1510.5 L500.7,1512.5 L500.8,1514.5 L500.9,1516.5 L500.9,1518.5 L501,1520.5 L501.1,1522.5 L501.1,1524.5 L501.2,1526.5 L501.2,1528.5 L501.3,1530.5 L501.3,1532.5 L501.4,1534.5 L501.4,1536.5 L501.5,1538.5 L501.5,1540.5 L501.5,1542.5 L501.6,1544.5 L501.6,1546.6 L501.6,1548.6 L501.7,1550.6 L501.7,1552.6 L501.7,1554.6 L501.7,1556.6 L501.8,1558.6 L501.8,1560.6 L501.8,1562.6 L501.8,1564.6 L501.8,1566.6 L501.8,1568.6 L501.8,1570.6 L501.8,1572.6 L501.8,1574.7 L501.8,1576.7 L501.8,1578.7 L501.8,1580.7 L501.8,1582.7 L501.8,1584.7 L501.8,1586.7 L501.8,1588.7 L501.7,1590.7 L501.7,1592.8 L501.7,1594.8 L501.7,1596.8 L501.6,1598.8 L501.6,1600.8 L501.6,1602.8 L501.5,1604.8 L501.5,1606.9 L501.4,1608.9 L501.4,1610.9 L501.4,1612.9 L501.3,1614.9 L501.3,1617 L501.2,1619 L501.1,1621 L501.1,1623 L501,1625 L500.9,1627.1 L500.9,1629.1 L500.8,1631.1 L500.7,1633.1 L500.7,1635.1 L500.6,1637.2 L500.5,1639.2 L500.4,1641.2 L500.3,1643.2 L500.2,1645.3 L500.1,1647.3 L500,1649.3 L499.9,1651.3 L499.8,1653.3 L499.6,1655.4 L499.5,1657.4 L499.3,1659.4 L499.1,1661.4 L498.9,1663.4 L498.6,1665.3 L498.4,1667.3 L498.1,1669.3 L497.8,1671.3 L497.5,1673.2 L497.1,1675.2 L496.7,1677.1 L496.3,1679 L495.9,1680.9 L495.4,1682.8 L494.9,1684.7 L494.3,1686.6 L493.7,1688.5 L493.1,1690.3 L492.4,1692.2 L491.7,1694 L491,1695.8 L490.2,1697.6 L489.3,1699.4 L488.4,1701.1 L487.4,1702.8 L486.4,1704.5 L485.4,1706.2 L484.2,1707.8 L483,1709.3 L481.8,1710.9 L480.5,1712.3 L479.1,1713.7 L477.6,1715.1 L476.1,1716.3 L474.4,1717.5 L472.7,1718.6 L471,1719.6 L469.1,1720.6 L467.1,1721.4 L465.1,1722.2 L463.1,1722.9 L461,1723.5 L458.8,1724 L456.7,1724.4 L454.5,1724.7 L452.3,1724.9 L450.2,1725 L448,1725.1 L445.9,1725 L443.9,1724.9 L441.8,1724.7 L439.9,1724.4 L437.9,1724 L436,1723.5 L434.1,1722.9 L432.3,1722.3 L430.5,1721.6 L428.8,1720.8 L427.1,1719.9 L425.4,1719 L423.8,1718 L422.2,1717 L420.7,1715.9 L419.1,1714.7 L417.7,1713.5 L416.2,1712.2 L414.8,1710.8 L413.5,1709.5 L412.1,1708 L410.9,1706.5 L409.6,1705 L408.4,1703.4 L407.2,1701.8 L406,1700.2 L404.9,1698.5 L403.9,1696.8 L402.8,1695.1 L401.8,1693.3 L400.8,1691.5 L399.9,1689.7 L399,1687.9 L398.1,1686 L397.3,1684.2 L396.4,1682.3 L395.7,1680.4 L394.9,1678.5 L394.2,1676.6 L393.5,1674.7 L392.9,1672.8 L392.2,1670.8 L391.6,1668.9 L391.1,1667 L390.5,1665 L390,1663.1 L389.5,1661.1 L389.1,1659.2 L388.6,1657.2 L388.2,1655.3 L387.8,1653.3 L387.4,1651.3 L387.1,1649.3 L386.8,1647.4 L386.4,1645.4 L386.1,1643.4 L385.9,1641.4 L385.6,1639.4 L385.4,1637.4 L385.1,1635.4 L384.9,1633.4 L384.7,1631.4 L384.5,1629.4 L384.3,1627.4 L384.2,1625.4 L384,1623.4 L383.9,1621.4 L383.7,1619.4 L383.6,1617.4 L383.5,1615.4 L383.3,1613.4 L383.2,1611.4 L383.1,1609.4 L383,1607.4 L382.9,1605.4 L382.9,1603.4 L382.8,1601.4 L382.7,1599.4 L382.7,1597.4 L382.6,1595.4 L382.6,1593.4 L382.5,1591.4 L382.5,1589.4 L382.5,1587.4 L382.5,1585.4 L382.5,1583.4 L382.5,1581.4 L382.5,1579.4 L382.5,1577.4 L382.5,1575.4 L382.5,1573.4 L382.5,1571.4 L382.6,1569.4 L382.6,1567.4 L382.6,1565.4 L382.7,1563.4 L382.8,1561.4 L382.8,1559.4 L382.9,1557.4 L383,1555.4 L383,1553.4 L383.1,1551.4 L383.2,1549.4 L383.3,1547.4 L383.4,1545.4 L383.5,1543.4 L383.6,1541.4 L383.7,1539.4 L383.8,1537.4 L384,1535.4 L384.1,1533.4 L384.2,1531.4 L384.4,1529.4 L384.5,1527.4 L384.6,1525.4 L384.8,1523.4 L384.9,1521.4 L385.1,1519.4 L385.3,1517.4 L385.4,1515.4 L385.6,1513.4 L385.8,1511.4 L385.9,1509.4 L386.1,1507.4 L386.3,1505.4 L386.5,1503.4 L386.7,1501.4 L386.9,1499.4 L387.1,1497.4 L387.3,1495.4 L387.5,1493.5 L387.7,1491.5 L387.9,1489.5 L388.1,1487.5 L388.3,1485.5 L388.5,1483.5 L388.7,1481.5 L388.9,1479.5 L389.2,1477.5 L389.4,1475.5 L389.6,1473.5 L389.8,1471.5 L390.1,1469.5 L390.3,1467.5 L390.5,1465.5 L390.8,1463.5 L391,1461.5 L391.2,1459.5 L391.5,1457.5 L391.7,1455.6 L391.9,1453.6 L392.2,1451.6 L392.4,1449.6 L392.7,1447.6 L392.9,1445.6 L393.2,1443.6 L393.4,1441.6 L393.7,1439.6 L393.9,1437.6 L394.2,1435.6 L394.4,1433.6 L394.7,1431.7 L394.9,1429.7 L395.2,1427.7 L395.4,1425.7 L395.7,1423.7 L395.9,1421.7 L396.2,1419.7 L396.4,1417.7 L396.7,1415.7 L396.9,1413.7 L397.2,1411.8 L397.4,1409.8 L397.7,1407.8 L397.9,1405.8 L398.2,1403.8 L398.5,1401.8 L398.7,1399.8 L399,1397.8 L399.2,1395.8 L399.5,1393.9 L399.7,1391.9 L400,1389.9 L400.3,1387.9 L400.5,1385.9 L400.8,1383.9 L401.1,1381.9 L401.3,1379.9 L401.6,1378 L401.8,1376 L402.1,1374 L402.4,1372 L402.6,1370 L402.9,1368 L403.2,1366 L403.4,1364.1 L403.7,1362.1 L404,1360.1 L404.3,1358.1 L404.5,1356.1 L404.8,1354.1 L405.1,1352.1 L405.3,1350.2 L405.6,1348.2 L405.9,1346.2 L406.2,1344.2 L406.4,1342.2 L406.7,1340.2 L407,1338.3 L407.3,1336.3 L407.6,1334.3 L407.8,1332.3 L408.1,1330.3 L408.4,1328.3 L408.7,1326.3 L409,1324.4 L409.3,1322.4 L409.5,1320.4 L409.8,1318.4 L410.1,1316.4 L410.4,1314.5 L410.7,1312.5 L411,1310.5 L411.3,1308.5 L411.6,1306.5 L411.8,1304.5 L412.1,1302.6 L412.4,1300.6 L412.7,1298.6 L413,1296.6 L413.3,1294.6 L413.6,1292.6 L413.9,1290.7 L414.2,1288.7 L414.5,1286.7 L414.8,1284.7 L415.1,1282.7 L415.4,1280.8 L415.7,1278.8 L416,1276.8 L416.3,1274.8 L416.6,1272.8 L417,1270.9 L417.3,1268.9 L417.6,1266.9 L417.9,1264.9 L418.2,1262.9 L418.5,1261 L418.8,1259 L419.1,1257 L419.5,1255 L419.8,1253 L420.1,1251.1 L420.4,1249.1 L420.7,1247.1 L421.1,1245.1 L421.4,1243.1 L421.7,1241.2 L422,1239.2 L422.3,1237.2 L422.7,1235.2 L423,1233.2 L423.3,1231.3 L423.7,1229.3 L424,1227.3 L424.3,1225.3 L424.6,1223.3 L425,1221.4 L425.3,1219.4 L425.6,1217.4 L425.9,1215.4 L426.3,1213.4 L426.6,1211.5 L426.9,1209.5 L427.2,1207.5 L427.5,1205.5 L427.9,1203.5 L428.2,1201.6 L428.5,1199.6 L428.8,1197.6 L429.1,1195.6 L429.4,1193.6 L429.7,1191.6 L430,1189.7 L430.3,1187.7 L430.6,1185.7 L430.9,1183.7 L431.2,1181.7 L431.5,1179.8 L431.8,1177.8 L432.1,1175.8 L432.4,1173.8 L432.7,1171.8 L433,1169.8 L433.2,1167.8 L433.5,1165.9 L433.8,1163.9 L434,1161.9 L434.3,1159.9 L434.5,1157.9 L434.8,1155.9 L435,1153.9 L435.3,1152 L435.5,1150 L435.8,1148 L436,1146 L436.2,1144 L436.4,1142 L436.6,1140 L436.9,1138 L437.1,1136 L437.3,1134.1 L437.4,1132.1 L437.6,1130.1 L437.8,1128.1 L438,1126.1 L438.2,1124.1 L438.3,1122.1 L438.5,1120.1 L438.6,1118.1 L438.8,1116.1 L438.9,1114.1 L439,1112.1 L439.2,1110.1 L439.3,1108.1 L439.4,1106.1 L439.5,1104.1 L439.6,1102.1 L439.7,1100.1 L439.8,1098.1 L439.8,1096.1 L439.9,1094.1 L439.9,1092.1 L440,1090.1 L440,1088.1 L440.1,1086.1 L440.1,1084.1 L440.1,1082.1 L440.1,1080.1 L440.1,1078.1 L440.1,1076.1 L440.1,1074 L440,1072 L440,1070 L440,1068 L439.9,1066 L439.8,1064 L439.8,1062 L439.7,1060 L439.6,1057.9 L439.5,1055.9 L439.4,1053.9 L439.2,1051.9 L439.1,1049.9 L438.9,1047.8 Z" fill="#fff" stroke-width="4"/>
<path d="M445.2,971.2 V728.5 A20.8,20.8 0 0 1 486.8,728.5 V971.2 Z" fill="none" stroke-width="7.2"/>
<circle cx="455.3" cy="728.9" r="3.8" fill="#000" stroke="none"/>
<circle cx="455.3" cy="739.4" r="3.8" fill="#000" stroke="none"/>
<circle cx="455.3" cy="749.9" r="3.8" fill="#000" stroke="none"/>
<circle cx="455.3" cy="760.4" r="3.8" fill="#000" stroke="none"/>
<circle cx="455.3" cy="770.9" r="3.8" fill="#000" stroke="none"/>
<circle cx="455.3" cy="781.4" r="3.8" fill="#000" stroke="none"/>
<circle cx="455.3" cy="791.9" r="3.8" fill="#000" stroke="none"/>
<circle cx="455.3" cy="802.4" r="3.8" fill="#000" stroke="none"/>
<circle cx="455.3" cy="812.9" r="3.8" fill="#000" stroke="none"/>
<circle cx="462.6" cy="728.9" r="3.8" fill="#000" stroke="none"/>
<circle cx="462.6" cy="739.4" r="3.8" fill="#000" stroke="none"/>
<circle cx="462.6" cy="749.9" r="3.8" fill="#000" stroke="none"/>
<circle cx="462.6" cy="760.4" r="3.8" fill="#000" stroke="none"/>
<circle cx="462.6" cy="770.9" r="3.8" fill="#000" stroke="none"/>
<circle cx="462.6" cy="781.4" r="3.8" fill="#000" stroke="none"/>
<circle cx="462.6" cy="791.9" r="3.8" fill="#000" stroke="none"/>
<circle cx="462.6" cy="802.4" r="3.8" fill="#000" stroke="none"/>
<circle cx="462.6" cy="812.9" r="3.8" fill="#000" stroke="none"/>
<circle cx="469.8" cy="728.9" r="3.8" fill="#000" stroke="none"/>
<circle cx="469.8" cy="739.4" r="3.8" fill="#000" stroke="none"/>
<circle cx="469.8" cy="749.9" r="3.8" fill="#000" stroke="none"/>
<circle cx="469.8" cy="760.4" r="3.8" fill="#000" stroke="none"/>
<circle cx="469.8" cy="770.9" r="3.8" fill="#000" stroke="none"/>
<circle cx="469.8" cy="781.4" r="3.8" fill="#000" stroke="none"/>
<circle cx="469.8" cy="791.9" r="3.8" fill="#000" stroke="none"/>
<circle cx="469.8" cy="802.4" r="3.8" fill="#000" stroke="none"/>
<circle cx="469.8" cy="812.9" r="3.8" fill="#000" stroke="none"/>
<circle cx="477.2" cy="728.9" r="3.8" fill="#000" stroke="none"/>
<circle cx="477.2" cy="739.4" r="3.8" fill="#000" stroke="none"/>
<circle cx="477.2" cy="749.9" r="3.8" fill="#000" stroke="none"/>
<circle cx="477.2" cy="760.4" r="3.8" fill="#000" stroke="none"/>
<circle cx="477.2" cy="770.9" r="3.8" fill="#000" stroke="none"/>
<circle cx="477.2" cy="781.4" r="3.8" fill="#000" stroke="none"/>
<circle cx="477.2" cy="791.9" r="3.8" fill="#000" stroke="none"/>
<circle cx="477.2" cy="802.4" r="3.8" fill="#000" stroke="none"/>
<circle cx="477.2" cy="812.9" r="3.8" fill="#000" stroke="none"/>
<path d="M413,978 H488.8 M487.8,978 V1013.6 H413" fill="none" stroke-width="3.8"/>
<rect x="451" y="974.2" width="30.2" height="27.3" fill="none" stroke-width="3.8"/>
<path d="M453.6,1001.5 V1013.6 M478,1001.5 V1013.6" fill="none" stroke-width="3.75"/>
<rect x="417.1" y="1013.6" width="26" height="10.7" fill="#fff" stroke-width="3.8"/>
<rect x="415.9" y="1024.3" width="29.8" height="14.6" fill="#fff" stroke-width="3.8"/>
<line x1="430.4" y1="1024.3" x2="430.4" y2="1038.9" stroke-width="3.8"/>
<rect x="420" y="1038.9" width="21.2" height="8.9" fill="#fff" stroke-width="3.8"/>
<rect x="926.3" y="618.2" width="230.5" height="230" rx="5.5" fill="none" stroke-width="3.8"/>
<rect x="933.7" y="625.4" width="215.9" height="215.5" rx="4.5" fill="none" stroke-width="3.8"/>
<circle cx="1041" cy="733.3" r="22.7" fill="none" stroke-width="3.65"/>
<circle cx="1041" cy="733.3" r="13.8" fill="none" stroke-width="4.3"/>
<path d="M1028.6,1026.4 V703.7 H1053.8 V1026.4" fill="#fff" stroke-width="3.9"/>
<circle cx="1041.4" cy="733" r="42.6" fill="none" stroke-width="3.65"/>
<rect x="926" y="1026.4" width="230.8" height="88.1" fill="none" stroke-width="3.8"/>
<rect x="948.2" y="990.6" width="58.7" height="12.2" fill="none" stroke-width="3.8"/>
<path d="M963,1002.8 V1026.4 M991.1,1002.8 V1026.4 M1076,1002.8 H1134.2 M1134.2,990.6 H1076 V1002.8 M1090.2,1002.8 V1026.4 M1118.6,1002.8 V1026.4" fill="none" stroke-width="3.75"/>
<rect x="964.2" y="1019.8" width="2.6" height="6" fill="#000" stroke="none"/>
<rect x="987.3" y="1019.8" width="2.6" height="6" fill="#000" stroke="none"/>
<rect x="1091.4" y="1019.8" width="2.6" height="6" fill="#000" stroke="none"/>
<rect x="1114.8" y="1019.8" width="2.6" height="6" fill="#000" stroke="none"/>
<rect x="1796.4" y="71.1" width="81.2" height="1732.8" fill="none" stroke-width="4.1"/>
<path d="M1796.4,127.9 H1474.2 V153.1 H1493.4 V175.5 M1514,175.5 V153.1 H1796.4" fill="none" stroke-width="3.6"/>
<rect x="1489" y="175.5" width="28.3" height="18.3" fill="none" stroke-width="3.6"/>
<path d="M1492,193.8 V198.9 M1515,193.8 V198.9" fill="none" stroke-width="3.25"/>
<path d="M1468.5,251 Q1482.4,242 1482.4,226.7 V198.9 H1526.6 V226.7 Q1526.6,242 1542,251" fill="none" stroke-width="3.6"/>
<path d="M1390,268.1 V256.2 Q1390,250.9 1395.3,250.9 H1615.5 Q1620.8,250.9 1620.8,256.2 V268.1 Z" fill="none" stroke-width="3.6"/>
<path d="M1417.5,269.3 a4.6,4.6 0 0 0 9.2,0 Z" fill="#000" stroke="none"/>
<path d="M1438.4,269.3 a4.6,4.6 0 0 0 9.2,0 Z" fill="#000" stroke="none"/>
<path d="M1459.2,269.3 a4.6,4.6 0 0 0 9.2,0 Z" fill="#000" stroke="none"/>
<path d="M1480.2,269.3 a4.6,4.6 0 0 0 9.2,0 Z" fill="#000" stroke="none"/>
<path d="M1501,269.3 a4.6,4.6 0 0 0 9.2,0 Z" fill="#000" stroke="none"/>
<path d="M1521.7,269.3 a4.6,4.6 0 0 0 9.2,0 Z" fill="#000" stroke="none"/>
<path d="M1542.6,269.3 a4.6,4.6 0 0 0 9.2,0 Z" fill="#000" stroke="none"/>
<path d="M1563.5,269.3 a4.6,4.6 0 0 0 9.2,0 Z" fill="#000" stroke="none"/>
<path d="M1584.6,269.3 a4.6,4.6 0 0 0 9.2,0 Z" fill="#000" stroke="none"/>
<rect x="1760" y="851.1" width="12.8" height="57.9" fill="none" stroke-width="3.8"/>
<line x1="1772.8" y1="868" x2="1796.5" y2="868" stroke-width="3.8"/>
<line x1="1772.8" y1="895.3" x2="1796.5" y2="895.3" stroke-width="3.8"/>
<rect x="1791.5" y="869.5" width="3.5" height="2.6" fill="#000" stroke="none"/>
<rect x="1791.5" y="891.2" width="3.5" height="2.6" fill="#000" stroke="none"/>
<rect x="1760" y="1429.9" width="12.7" height="57.5" fill="none" stroke-width="3.8"/>
<line x1="1772.7" y1="1446.2" x2="1796.5" y2="1446.2" stroke-width="3.8"/>
<line x1="1772.7" y1="1473.7" x2="1796.5" y2="1473.7" stroke-width="3.8"/>
<rect x="1791.5" y="1447.7" width="3.5" height="2.6" fill="#000" stroke="none"/>
<rect x="1791.5" y="1469.6" width="3.5" height="2.6" fill="#000" stroke="none"/>
<rect x="1790.6" y="1079.7" width="6" height="57" fill="none" stroke-width="3.6"/>
<line x1="1779.1" y1="1095.8" x2="1790.6" y2="1095.8" stroke-width="3.6"/>
<line x1="1779.1" y1="1121.1" x2="1790.6" y2="1121.1" stroke-width="3.6"/>
<rect x="1732.8" y="1088.2" width="46.3" height="39.9" fill="none" stroke-width="3.9"/>
<rect x="1790.6" y="1188.8" width="6" height="69.7" fill="none" stroke-width="3.6"/>
<line x1="1779.1" y1="1211" x2="1790.6" y2="1211" stroke-width="3.6"/>
<line x1="1779.1" y1="1236.3" x2="1790.6" y2="1236.3" stroke-width="3.6"/>
<path d="M1733.5,1246.5 H1779.1 V1200.6 H1727.5 Q1724,1200.6 1724,1204 V1273.5 A4.75,4.75 0 0 0 1733.5,1273.5 Z" fill="none" stroke-width="3.9"/>
<path d="M1827.1,1043 L1827.1,1045 L1827.2,1047 L1827.2,1049 L1827.3,1051 L1827.4,1053 L1827.4,1055 L1827.5,1057 L1827.5,1059 L1827.6,1061 L1827.6,1063 L1827.6,1065 L1827.7,1067 L1827.7,1069.1 L1827.8,1071.1 L1827.8,1073.1 L1827.8,1075.1 L1827.9,1077.1 L1827.9,1079.1 L1827.9,1081.1 L1828,1083.1 L1828,1085.1 L1828,1087.1 L1828,1089.1 L1828.1,1091.1 L1828.1,1093.1 L1828.1,1095.1 L1828.1,1097.1 L1828.1,1099.1 L1828.1,1101.1 L1828.2,1103.2 L1828.2,1105.2 L1828.2,1107.2 L1828.2,1109.2 L1828.2,1111.2 L1828.2,1113.2 L1828.2,1115.2 L1828.2,1117.2 L1828.2,1119.2 L1828.2,1121.2 L1828.2,1123.2 L1828.2,1125.2 L1828.2,1127.2 L1828.2,1129.2 L1828.2,1131.2 L1828.2,1133.2 L1828.2,1135.2 L1828.2,1137.2 L1828.2,1139.2 L1828.1,1141.2 L1828.1,1143.2 L1828.1,1145.2 L1828.1,1147.3 L1828.1,1149.3 L1828.1,1151.3 L1828.1,1153.3 L1828,1155.3 L1828,1157.3 L1828,1159.3 L1828,1161.3 L1828,1163.3 L1827.9,1165.3 L1827.9,1167.3 L1827.9,1169.3 L1827.9,1171.3 L1827.8,1173.3 L1827.8,1175.3 L1827.8,1177.3 L1827.7,1179.3 L1827.7,1181.3 L1827.7,1183.3 L1827.6,1185.3 L1827.6,1187.3 L1827.6,1189.3 L1827.5,1191.3 L1827.5,1193.3 L1827.5,1195.3 L1827.4,1197.3 L1827.4,1199.3 L1827.4,1201.3 L1827.3,1203.3 L1827.3,1205.3 L1827.2,1207.3 L1827.2,1209.3 L1827.2,1211.3 L1827.1,1213.3 L1827.1,1215.3 L1827,1217.3 L1827,1219.4 L1826.9,1221.4 L1826.9,1223.4 L1826.9,1225.4 L1826.8,1227.4 L1826.8,1229.4 L1826.7,1231.4 L1826.7,1233.4 L1826.6,1235.4 L1826.6,1237.4 L1826.5,1239.4 L1826.5,1241.4 L1826.4,1243.4 L1826.4,1245.4 L1826.3,1247.4 L1826.3,1249.4 L1826.2,1251.4 L1826.2,1253.4 L1826.1,1255.4 L1826.1,1257.4 L1826,1259.4 L1826,1261.4 L1825.9,1263.4 L1825.9,1265.4 L1825.8,1267.4 L1825.8,1269.4 L1825.7,1271.4 L1825.7,1273.4 L1825.6,1275.4 L1825.6,1277.4 L1825.5,1279.4 L1825.5,1281.4 L1825.4,1283.4 L1825.4,1285.4 L1825.3,1287.4 L1825.3,1289.4 L1825.2,1291.4 L1825.2,1293.4 L1825.1,1295.4 L1825.1,1297.4 L1825,1299.4 L1825,1301.4 L1824.9,1303.5 L1824.9,1305.5 L1824.8,1307.5 L1824.8,1309.5 L1824.8,1311.5 L1824.7,1313.5 L1824.7,1315.5 L1824.6,1317.5 L1824.6,1319.5 L1824.5,1321.5 L1824.5,1323.5 L1824.4,1325.5 L1824.4,1327.5 L1824.3,1329.5 L1824.3,1331.5 L1824.2,1333.5 L1824.2,1335.5 L1824.2,1337.5 L1824.1,1339.5 L1824.1,1341.5 L1824,1343.5 L1824,1345.5 L1823.9,1347.5 L1823.9,1349.5 L1823.9,1351.5 L1823.8,1353.5 L1823.8,1355.5 L1823.7,1357.5 L1823.7,1359.5 L1823.7,1361.5 L1823.6,1363.6 L1823.6,1365.6 L1823.6,1367.6 L1823.5,1369.6 L1823.5,1371.6 L1823.5,1373.6 L1823.4,1375.6 L1823.4,1377.6 L1823.4,1379.6 L1823.3,1381.6 L1823.3,1383.6 L1823.3,1385.6 L1823.3,1387.6 L1823.2,1389.6 L1823.2,1391.6 L1823.2,1393.6 L1823.2,1395.6 L1823.1,1397.6 L1823.1,1399.6 L1823.1,1401.7 L1823.1,1403.7 L1823.1,1405.7 L1823,1407.7 L1823,1409.7 L1823,1411.7 L1823,1413.7 L1823,1415.7 L1823,1417.7 L1823,1419.7 L1822.9,1421.7 L1822.9,1423.7 L1822.9,1425.7 L1822.9,1427.7 L1822.9,1429.7 L1822.9,1431.8 L1822.9,1433.8 L1822.9,1435.8 L1822.9,1437.8 L1822.9,1439.8 L1822.9,1441.8 L1822.9,1443.8 L1822.9,1445.8 L1822.9,1447.8 L1822.9,1449.8 L1822.9,1451.8 L1823,1453.8 L1823,1455.8 L1823,1457.9 L1823,1459.9 L1823,1461.9 L1823,1463.9 L1823,1465.9 L1823.1,1467.9 L1823.1,1469.9 L1823.1,1471.9 L1823.1,1473.9 L1823.2,1475.9 L1823.2,1477.9 L1823.2,1480 L1823.3,1482 L1823.3,1484 L1823.3,1486 L1823.4,1488 L1823.4,1490 L1823.5,1492 L1823.5,1494 L1823.6,1496 L1823.6,1498 L1823.6,1500 L1823.7,1502 L1823.8,1504.1 L1823.8,1506.1 L1823.9,1508.1 L1823.9,1510.1 L1824,1512.1 L1824.1,1514.1 L1824.1,1516.1 L1824.2,1518.1 L1824.3,1520.1 L1824.3,1522.1 L1824.4,1524.1 L1824.5,1526.1 L1824.6,1528.1 L1824.6,1530.1 L1824.7,1532.1 L1824.8,1534.1 L1824.9,1536.1 L1825,1538.2 L1825.1,1540.2 L1825.2,1542.2 L1825.3,1544.2 L1825.4,1546.2 L1825.5,1548.2 L1825.6,1550.2 L1825.7,1552.2 L1825.8,1554.2 L1825.9,1556.2 L1826,1558.2 L1826.1,1560.2 L1826.3,1562.2 L1826.4,1564.2 L1826.5,1566.2 L1826.6,1568.2 L1826.8,1570.2 L1826.9,1572.2 L1827,1574.2 L1827.2,1576.2 L1827.3,1578.2 L1827.5,1580.1 L1827.6,1582.1 L1827.8,1584.1 L1827.9,1586.1 L1828.1,1588.1 L1828.2,1590.1 L1828.4,1592.1 L1828.6,1594.1 L1828.7,1596.1 L1828.9,1598.1 L1829.1,1600.1 L1829.3,1602.1 L1829.4,1604.1 L1829.6,1606 L1829.8,1608 L1830,1610 L1830.2,1612 L1830.4,1614 L1830.6,1616 L1830.8,1618 L1831,1620 L1831.2,1621.9 L1831.4,1623.9 L1831.6,1625.9 L1831.8,1627.9 L1832.1,1629.9 L1832.3,1631.8 L1832.5,1633.8 L1832.7,1635.8 L1833,1637.8 L1833.2,1639.8 L1833.5,1641.7 L1833.7,1643.7 L1834,1645.7 L1834.2,1647.7 L1834.5,1649.6 L1834.7,1651.6 L1835,1653.6 L1835.3,1655.6 L1835.6,1657.5 L1835.9,1659.5 L1836.2,1661.5 L1836.5,1663.5 L1836.8,1665.4 L1837.1,1667.4 L1837.4,1669.4 L1837.8,1671.3 L1838.1,1673.3 L1838.5,1675.3 L1838.8,1677.2 L1839.2,1679.2 L1839.6,1681.2 L1840,1683.1 L1840.4,1685.1 L1840.9,1687.1 L1841.3,1689 L1841.7,1691 L1842.2,1693 L1842.7,1694.9 L1843.2,1696.9 L1843.7,1698.9 L1844.2,1700.8 L1844.7,1702.8 L1845.3,1704.8 L1845.8,1706.7 L1846.4,1708.7 L1847,1710.7 L1847.6,1712.6 L1848.2,1714.6 L1848.9,1716.5 L1849.5,1718.5 L1850.2,1720.5 L1850.9,1722.4 L1851.7,1724.4 L1852.4,1726.3 L1853.2,1728.2 L1854,1730.1 L1854.9,1731.9 L1855.8,1733.8 L1856.7,1735.6 L1857.7,1737.4 L1858.7,1739.1 L1859.8,1740.8 L1860.9,1742.5 L1862,1744.1 L1863.2,1745.7 L1864.5,1747.2 L1865.8,1748.7 L1867.2,1750.1 L1868.6,1751.4 L1870.1,1752.7 L1871.7,1754 L1873.3,1755.1 L1875,1756.2 L1876.7,1757.1 L1878.5,1758 L1880.2,1758.7 L1882,1759.3 L1883.8,1759.8 L1885.6,1760.1 L1887.4,1760.2 L1889.2,1760.2 L1890.9,1760 L1892.6,1759.7 L1894.4,1759.2 L1896,1758.5 L1897.7,1757.8 L1899.4,1756.9 L1901,1755.9 L1902.6,1754.7 L1904.2,1753.5 L1905.8,1752.2 L1907.3,1750.8 L1908.8,1749.4 L1910.3,1747.8 L1911.7,1746.2 L1913.2,1744.6 L1914.6,1742.9 L1915.9,1741.2 L1917.3,1739.4 L1918.6,1737.6 L1919.8,1735.9 L1921,1734.1 L1922.2,1732.3 L1923.4,1730.5 L1924.5,1728.7 L1925.6,1727 L1926.7,1725.2 L1927.7,1723.4 L1928.7,1721.6 L1929.7,1719.9 L1930.6,1718.1 L1931.5,1716.3 L1932.4,1714.5 L1933.2,1712.8 L1934,1711 L1934.8,1709.2 L1935.6,1707.4 L1936.4,1705.6 L1937.1,1703.8 L1937.8,1702 L1938.5,1700.1 L1939.1,1698.3 L1939.8,1696.5 L1940.4,1694.6 L1941,1692.7 L1941.6,1690.9 L1942.2,1689 L1942.7,1687.1 L1943.2,1685.2 L1943.7,1683.3 L1944.2,1681.3 L1944.7,1679.4 L1945.2,1677.5 L1945.6,1675.5 L1946,1673.6 L1946.4,1671.6 L1946.8,1669.7 L1947.1,1667.7 L1947.5,1665.7 L1947.8,1663.7 L1948.1,1661.7 L1948.4,1659.8 L1948.7,1657.8 L1949,1655.8 L1949.2,1653.8 L1949.4,1651.7 L1949.6,1649.7 L1949.8,1647.7 L1950,1645.7 L1950.1,1643.7 L1950.3,1641.7 L1950.4,1639.6 L1950.5,1637.6 L1950.6,1635.6 L1950.7,1633.6 L1950.7,1631.6 L1950.8,1629.5 L1950.8,1627.5 L1950.8,1625.5 L1950.8,1623.5 L1950.8,1621.5 L1950.7,1619.5 L1950.7,1617.4 L1950.6,1615.4 L1950.5,1613.4 L1950.4,1611.4 L1950.3,1609.4 L1950.2,1607.4 L1950,1605.4 L1949.9,1603.4 L1949.7,1601.4 L1949.5,1599.4 L1949.3,1597.4 L1949.1,1595.4 L1948.9,1593.5 L1948.7,1591.5 L1948.5,1589.5 L1948.2,1587.5 L1948,1585.5 L1947.7,1583.5 L1947.4,1581.6 L1947.1,1579.6 L1946.8,1577.6 L1946.5,1575.6 L1946.2,1573.7 L1945.9,1571.7 L1945.5,1569.7 L1945.2,1567.7 L1944.9,1565.8 L1944.5,1563.8 L1944.2,1561.8 L1943.8,1559.9 L1943.4,1557.9 L1943,1555.9 L1942.7,1554 L1942.3,1552 L1941.9,1550 L1941.5,1548.1 L1941.1,1546.1 L1940.7,1544.2 L1940.3,1542.2 L1939.9,1540.2 L1939.5,1538.3 L1939,1536.3 L1938.6,1534.4 L1938.2,1532.4 L1937.8,1530.4 L1937.4,1528.5 L1937,1526.5 L1936.5,1524.6 L1936.1,1522.6 L1935.7,1520.6 L1935.3,1518.7 L1934.8,1516.7 L1934.4,1514.8 L1934,1512.8 L1933.6,1510.8 L1933.2,1508.9 L1932.8,1506.9 L1932.4,1504.9 L1932,1503 L1931.6,1501 L1931.2,1499.1 L1930.8,1497.1 L1930.4,1495.1 L1930,1493.2 L1929.6,1491.2 L1929.2,1489.2 L1928.9,1487.2 L1928.5,1485.3 L1928.1,1483.3 L1927.7,1481.3 L1927.4,1479.4 L1927,1477.4 L1926.7,1475.4 L1926.3,1473.4 L1925.9,1471.5 L1925.6,1469.5 L1925.2,1467.5 L1924.9,1465.5 L1924.6,1463.6 L1924.2,1461.6 L1923.9,1459.6 L1923.6,1457.6 L1923.2,1455.7 L1922.9,1453.7 L1922.6,1451.7 L1922.2,1449.7 L1921.9,1447.8 L1921.6,1445.8 L1921.3,1443.8 L1921,1441.8 L1920.7,1439.8 L1920.4,1437.8 L1920.1,1435.9 L1919.8,1433.9 L1919.5,1431.9 L1919.2,1429.9 L1918.9,1427.9 L1918.6,1426 L1918.3,1424 L1918,1422 L1917.7,1420 L1917.4,1418 L1917.1,1416 L1916.9,1414 L1916.6,1412.1 L1916.3,1410.1 L1916,1408.1 L1915.8,1406.1 L1915.5,1404.1 L1915.2,1402.1 L1915,1400.2 L1914.7,1398.2 L1914.4,1396.2 L1914.2,1394.2 L1913.9,1392.2 L1913.6,1390.2 L1913.4,1388.2 L1913.1,1386.2 L1912.9,1384.3 L1912.6,1382.3 L1912.3,1380.3 L1912.1,1378.3 L1911.8,1376.3 L1911.6,1374.3 L1911.3,1372.3 L1911.1,1370.3 L1910.8,1368.4 L1910.5,1366.4 L1910.3,1364.4 L1910,1362.4 L1909.8,1360.4 L1909.5,1358.4 L1909.2,1356.4 L1909,1354.5 L1908.7,1352.5 L1908.5,1350.5 L1908.2,1348.5 L1907.9,1346.5 L1907.7,1344.5 L1907.4,1342.5 L1907.1,1340.5 L1906.8,1338.6 L1906.6,1336.6 L1906.3,1334.6 L1906,1332.6 L1905.7,1330.6 L1905.4,1328.6 L1905.2,1326.7 L1904.9,1324.7 L1904.6,1322.7 L1904.3,1320.7 L1904,1318.7 L1903.7,1316.7 L1903.4,1314.8 L1903.1,1312.8 L1902.8,1310.8 L1902.5,1308.8 L1902.1,1306.8 L1901.8,1304.9 L1901.5,1302.9 L1901.2,1300.9 L1900.9,1298.9 L1900.6,1296.9 L1900.2,1295 L1899.9,1293 L1899.6,1291 L1899.3,1289 L1898.9,1287 L1898.6,1285.1 L1898.3,1283.1 L1898,1281.1 L1897.6,1279.1 L1897.3,1277.1 L1897,1275.2 L1896.7,1273.2 L1896.3,1271.2 L1896,1269.2 L1895.7,1267.3 L1895.3,1265.3 L1895,1263.3 L1894.7,1261.3 L1894.4,1259.3 L1894,1257.4 L1893.7,1255.4 L1893.4,1253.4 L1893.1,1251.4 L1892.7,1249.4 L1892.4,1247.5 L1892.1,1245.5 L1891.8,1243.5 L1891.5,1241.5 L1891.1,1239.6 L1890.8,1237.6 L1890.5,1235.6 L1890.2,1233.6 L1889.9,1231.6 L1889.6,1229.7 L1889.3,1227.7 L1889,1225.7 L1888.6,1223.7 L1888.3,1221.7 L1888,1219.8 L1887.7,1217.8 L1887.4,1215.8 L1887,1213.8 L1886.7,1211.9 L1886.4,1209.9 L1886,1207.9 L1885.7,1205.9 L1885.3,1204 L1885,1202 L1884.6,1200 L1884.2,1198.1 L1883.9,1196.1 L1883.5,1194.2 L1883.1,1192.2 L1882.7,1190.2 L1882.3,1188.3 L1881.8,1186.3 L1881.4,1184.4 L1881,1182.4 L1880.5,1180.5 L1880,1178.5 L1879.6,1176.6 L1879.1,1174.7 L1878.6,1172.7 L1878,1170.8 L1877.5,1168.9 L1877,1166.9 L1876.4,1165 L1875.8,1163.1 L1875.3,1161.2 L1874.7,1159.3 L1874.1,1157.3 L1873.4,1155.4 L1872.8,1153.5 L1872.2,1151.6 L1871.5,1149.7 L1870.9,1147.8 L1870.2,1145.9 L1869.6,1144 L1868.9,1142.1 L1868.2,1140.2 L1867.5,1138.3 L1866.9,1136.4 L1866.2,1134.5 L1865.5,1132.6 L1864.8,1130.7 L1864.1,1128.8 L1863.5,1126.9 L1862.8,1125 L1862.1,1123.1 L1861.5,1121.2 L1860.8,1119.3 L1860.1,1117.4 L1859.5,1115.5 L1858.8,1113.6 L1858.2,1111.7 L1857.6,1109.8 L1857,1107.9 L1856.3,1106 L1855.8,1104.1 L1855.2,1102.2 L1854.6,1100.3 L1854,1098.3 L1853.5,1096.4 L1853,1094.5 L1852.5,1092.6 L1852,1090.6 L1851.5,1088.7 L1851,1086.8 L1850.6,1084.8 L1850.2,1082.9 L1849.8,1080.9 L1849.4,1079 L1849,1077 L1848.7,1075 L1848.4,1073.1 L1848.1,1071.1 L1847.8,1069.1 L1847.6,1067.1 L1847.4,1065.2 L1847.2,1063.2 L1847.1,1061.2 L1847,1059.2 L1846.9,1057.1 L1846.8,1055.1 L1846.8,1053.1 L1846.8,1051.1 L1846.8,1049 L1846.9,1047 L1847,1044.9 L1847.2,1042.9 L1826.7,1043 L1826.8,1045 L1826.9,1047 L1827,1049 L1827.1,1051 L1827.3,1053 L1827.6,1055 L1827.8,1057 L1828.1,1059 L1828.4,1060.9 L1828.8,1062.9 L1829.2,1064.8 L1829.6,1066.8 L1830,1068.7 L1830.5,1070.7 L1831,1072.6 L1831.5,1074.6 L1832,1076.5 L1832.6,1078.4 L1833.1,1080.3 L1833.7,1082.3 L1834.3,1084.2 L1834.9,1086.1 L1835.5,1088 L1836.1,1089.9 L1836.7,1091.8 L1837.4,1093.7 L1838,1095.6 L1838.6,1097.5 L1839.3,1099.5 L1839.9,1101.4 L1840.6,1103.3 L1841.2,1105.2 L1841.9,1107.1 L1842.5,1109 L1843.1,1110.9 L1843.8,1112.8 L1844.4,1114.7 L1845,1116.6 L1845.6,1118.5 L1846.3,1120.4 L1846.9,1122.3 L1847.5,1124.2 L1848.1,1126.1 L1848.7,1128 L1849.3,1129.9 L1849.9,1131.9 L1850.5,1133.8 L1851.1,1135.7 L1851.7,1137.6 L1852.3,1139.5 L1852.9,1141.4 L1853.5,1143.3 L1854.1,1145.2 L1854.7,1147.1 L1855.3,1149 L1855.9,1151 L1856.5,1152.9 L1857.1,1154.8 L1857.6,1156.7 L1858.2,1158.6 L1858.8,1160.5 L1859.4,1162.4 L1859.9,1164.4 L1860.5,1166.3 L1861.1,1168.2 L1861.6,1170.1 L1862.2,1172 L1862.8,1174 L1863.3,1175.9 L1863.9,1177.8 L1864.4,1179.7 L1865,1181.7 L1865.5,1183.6 L1866,1185.5 L1866.6,1187.5 L1867.1,1189.4 L1867.6,1191.3 L1868.1,1193.3 L1868.6,1195.2 L1869.2,1197.1 L1869.6,1199.1 L1870.1,1201 L1870.6,1203 L1871.1,1204.9 L1871.6,1206.9 L1872,1208.8 L1872.5,1210.8 L1872.9,1212.7 L1873.3,1214.7 L1873.7,1216.6 L1874.2,1218.6 L1874.6,1220.5 L1875,1222.5 L1875.4,1224.5 L1875.7,1226.4 L1876.1,1228.4 L1876.5,1230.4 L1876.9,1232.3 L1877.2,1234.3 L1877.6,1236.3 L1877.9,1238.2 L1878.3,1240.2 L1878.6,1242.2 L1878.9,1244.2 L1879.2,1246.2 L1879.6,1248.1 L1879.9,1250.1 L1880.2,1252.1 L1880.5,1254.1 L1880.8,1256 L1881.1,1258 L1881.4,1260 L1881.7,1262 L1882,1264 L1882.3,1266 L1882.6,1267.9 L1882.9,1269.9 L1883.2,1271.9 L1883.5,1273.9 L1883.8,1275.9 L1884,1277.9 L1884.3,1279.9 L1884.6,1281.8 L1884.9,1283.8 L1885.2,1285.8 L1885.5,1287.8 L1885.7,1289.8 L1886,1291.8 L1886.3,1293.7 L1886.6,1295.7 L1886.9,1297.7 L1887.1,1299.7 L1887.4,1301.7 L1887.7,1303.7 L1888,1305.6 L1888.3,1307.6 L1888.5,1309.6 L1888.8,1311.6 L1889.1,1313.6 L1889.4,1315.6 L1889.7,1317.5 L1890,1319.5 L1890.2,1321.5 L1890.5,1323.5 L1890.8,1325.5 L1891.1,1327.5 L1891.4,1329.4 L1891.6,1331.4 L1891.9,1333.4 L1892.2,1335.4 L1892.5,1337.4 L1892.8,1339.3 L1893.1,1341.3 L1893.3,1343.3 L1893.6,1345.3 L1893.9,1347.3 L1894.2,1349.3 L1894.5,1351.2 L1894.8,1353.2 L1895,1355.2 L1895.3,1357.2 L1895.6,1359.2 L1895.9,1361.1 L1896.2,1363.1 L1896.5,1365.1 L1896.8,1367.1 L1897,1369.1 L1897.3,1371.1 L1897.6,1373 L1897.9,1375 L1898.2,1377 L1898.5,1379 L1898.8,1381 L1899.1,1382.9 L1899.4,1384.9 L1899.7,1386.9 L1900,1388.9 L1900.2,1390.9 L1900.5,1392.8 L1900.8,1394.8 L1901.1,1396.8 L1901.4,1398.8 L1901.7,1400.8 L1902,1402.8 L1902.3,1404.7 L1902.6,1406.7 L1902.9,1408.7 L1903.2,1410.7 L1903.5,1412.7 L1903.8,1414.6 L1904.1,1416.6 L1904.4,1418.6 L1904.7,1420.6 L1905,1422.6 L1905.3,1424.5 L1905.7,1426.5 L1906,1428.5 L1906.3,1430.5 L1906.6,1432.5 L1906.9,1434.4 L1907.2,1436.4 L1907.5,1438.4 L1907.8,1440.4 L1908.1,1442.4 L1908.5,1444.3 L1908.8,1446.3 L1909.1,1448.3 L1909.4,1450.3 L1909.7,1452.3 L1910.1,1454.2 L1910.4,1456.2 L1910.7,1458.2 L1911,1460.2 L1911.3,1462.2 L1911.7,1464.1 L1912,1466.1 L1912.3,1468.1 L1912.7,1470.1 L1913,1472 L1913.3,1474 L1913.7,1476 L1914,1478 L1914.3,1479.9 L1914.7,1481.9 L1915,1483.9 L1915.3,1485.9 L1915.7,1487.8 L1916,1489.8 L1916.4,1491.8 L1916.7,1493.8 L1917,1495.7 L1917.4,1497.7 L1917.7,1499.7 L1918.1,1501.7 L1918.4,1503.6 L1918.8,1505.6 L1919.1,1507.6 L1919.5,1509.6 L1919.9,1511.5 L1920.2,1513.5 L1920.6,1515.5 L1920.9,1517.4 L1921.3,1519.4 L1921.7,1521.4 L1922,1523.3 L1922.4,1525.3 L1922.8,1527.3 L1923.1,1529.2 L1923.5,1531.2 L1923.9,1533.2 L1924.2,1535.1 L1924.6,1537.1 L1925,1539.1 L1925.4,1541 L1925.7,1543 L1926.1,1545 L1926.5,1546.9 L1926.9,1548.9 L1927.3,1550.9 L1927.6,1552.8 L1928,1554.8 L1928.4,1556.8 L1928.7,1558.7 L1929.1,1560.7 L1929.5,1562.7 L1929.8,1564.6 L1930.2,1566.6 L1930.5,1568.6 L1930.8,1570.5 L1931.2,1572.5 L1931.5,1574.5 L1931.8,1576.4 L1932.2,1578.4 L1932.5,1580.4 L1932.8,1582.3 L1933.1,1584.3 L1933.3,1586.3 L1933.6,1588.3 L1933.9,1590.3 L1934.1,1592.2 L1934.4,1594.2 L1934.6,1596.2 L1934.9,1598.2 L1935.1,1600.2 L1935.3,1602.2 L1935.5,1604.1 L1935.6,1606.1 L1935.8,1608.1 L1936,1610.1 L1936.1,1612.1 L1936.2,1614.1 L1936.4,1616.1 L1936.5,1618.1 L1936.5,1620.1 L1936.6,1622.2 L1936.7,1624.2 L1936.7,1626.2 L1936.7,1628.2 L1936.7,1630.2 L1936.7,1632.2 L1936.7,1634.2 L1936.6,1636.3 L1936.6,1638.3 L1936.5,1640.3 L1936.4,1642.3 L1936.3,1644.3 L1936.1,1646.3 L1936,1648.4 L1935.8,1650.4 L1935.6,1652.4 L1935.4,1654.4 L1935.2,1656.4 L1934.9,1658.4 L1934.7,1660.4 L1934.4,1662.4 L1934.1,1664.4 L1933.7,1666.3 L1933.4,1668.3 L1933,1670.3 L1932.6,1672.3 L1932.2,1674.2 L1931.8,1676.2 L1931.3,1678.1 L1930.8,1680.1 L1930.3,1682 L1929.8,1683.9 L1929.2,1685.9 L1928.7,1687.8 L1928.1,1689.7 L1927.5,1691.6 L1926.8,1693.5 L1926.1,1695.4 L1925.5,1697.2 L1924.7,1699.1 L1924,1700.9 L1923.2,1702.8 L1922.4,1704.6 L1921.6,1706.4 L1920.8,1708.2 L1919.9,1710 L1919,1711.8 L1918.1,1713.6 L1917.1,1715.4 L1916.2,1717.1 L1915.2,1718.8 L1914.1,1720.6 L1913.1,1722.3 L1912,1724 L1910.9,1725.7 L1909.7,1727.3 L1908.6,1729 L1907.4,1730.6 L1906.1,1732.2 L1904.9,1733.8 L1903.6,1735.4 L1902.3,1737 L1900.9,1738.5 L1899.5,1739.9 L1898,1741.3 L1896.5,1742.6 L1894.8,1743.7 L1893.1,1744.8 L1891.4,1745.7 L1889.5,1746.4 L1887.7,1746.9 L1885.9,1747.1 L1884.2,1746.9 L1882.5,1746.5 L1881,1745.7 L1879.5,1744.7 L1878,1743.5 L1876.7,1742.1 L1875.4,1740.5 L1874.2,1738.9 L1873,1737.1 L1871.9,1735.3 L1870.8,1733.4 L1869.8,1731.6 L1868.8,1729.7 L1867.9,1727.9 L1867,1726 L1866.2,1724.2 L1865.4,1722.3 L1864.7,1720.4 L1864,1718.6 L1863.3,1716.7 L1862.6,1714.8 L1862,1712.9 L1861.4,1711 L1860.9,1709.1 L1860.3,1707.2 L1859.8,1705.3 L1859.3,1703.4 L1858.8,1701.4 L1858.4,1699.5 L1857.9,1697.6 L1857.5,1695.6 L1857,1693.7 L1856.6,1691.7 L1856.2,1689.8 L1855.8,1687.8 L1855.4,1685.9 L1855,1683.9 L1854.6,1681.9 L1854.2,1680 L1853.8,1678 L1853.4,1676 L1853.1,1674 L1852.7,1672.1 L1852.4,1670.1 L1852,1668.1 L1851.7,1666.1 L1851.4,1664.2 L1851.1,1662.2 L1850.7,1660.2 L1850.4,1658.2 L1850.1,1656.2 L1849.8,1654.3 L1849.5,1652.3 L1849.2,1650.3 L1849,1648.3 L1848.7,1646.3 L1848.4,1644.3 L1848.1,1642.3 L1847.9,1640.4 L1847.6,1638.4 L1847.4,1636.4 L1847.1,1634.4 L1846.9,1632.4 L1846.7,1630.4 L1846.4,1628.4 L1846.2,1626.4 L1846,1624.5 L1845.8,1622.5 L1845.6,1620.5 L1845.4,1618.5 L1845.2,1616.5 L1845,1614.5 L1844.8,1612.5 L1844.6,1610.5 L1844.4,1608.5 L1844.2,1606.5 L1844.1,1604.5 L1843.9,1602.5 L1843.7,1600.5 L1843.6,1598.6 L1843.4,1596.6 L1843.3,1594.6 L1843.1,1592.6 L1843,1590.6 L1842.8,1588.6 L1842.7,1586.6 L1842.6,1584.6 L1842.4,1582.6 L1842.3,1580.6 L1842.2,1578.6 L1842.1,1576.6 L1841.9,1574.6 L1841.8,1572.6 L1841.7,1570.6 L1841.6,1568.6 L1841.5,1566.6 L1841.4,1564.6 L1841.3,1562.6 L1841.2,1560.6 L1841.1,1558.6 L1841,1556.6 L1840.9,1554.6 L1840.8,1552.6 L1840.8,1550.6 L1840.7,1548.6 L1840.6,1546.6 L1840.5,1544.6 L1840.4,1542.6 L1840.4,1540.6 L1840.3,1538.5 L1840.2,1536.5 L1840.2,1534.5 L1840.1,1532.5 L1840,1530.5 L1840,1528.5 L1839.9,1526.5 L1839.8,1524.5 L1839.8,1522.5 L1839.7,1520.5 L1839.7,1518.5 L1839.6,1516.5 L1839.6,1514.5 L1839.5,1512.5 L1839.4,1510.5 L1839.4,1508.5 L1839.3,1506.5 L1839.3,1504.5 L1839.2,1502.5 L1839.2,1500.5 L1839.2,1498.5 L1839.1,1496.5 L1839.1,1494.5 L1839,1492.5 L1839,1490.5 L1838.9,1488.5 L1838.9,1486.4 L1838.8,1484.4 L1838.8,1482.4 L1838.8,1480.4 L1838.7,1478.4 L1838.7,1476.4 L1838.6,1474.4 L1838.6,1472.4 L1838.6,1470.4 L1838.5,1468.4 L1838.5,1466.4 L1838.5,1464.4 L1838.4,1462.4 L1838.4,1460.4 L1838.3,1458.4 L1838.3,1456.4 L1838.3,1454.4 L1838.3,1452.4 L1838.2,1450.4 L1838.2,1448.4 L1838.2,1446.4 L1838.1,1444.4 L1838.1,1442.4 L1838.1,1440.4 L1838.1,1438.4 L1838,1436.4 L1838,1434.4 L1838,1432.3 L1838,1430.3 L1837.9,1428.3 L1837.9,1426.3 L1837.9,1424.3 L1837.9,1422.3 L1837.8,1420.3 L1837.8,1418.3 L1837.8,1416.3 L1837.8,1414.3 L1837.8,1412.3 L1837.7,1410.3 L1837.7,1408.3 L1837.7,1406.3 L1837.7,1404.3 L1837.7,1402.3 L1837.7,1400.3 L1837.7,1398.3 L1837.6,1396.3 L1837.6,1394.3 L1837.6,1392.3 L1837.6,1390.3 L1837.6,1388.3 L1837.6,1386.3 L1837.6,1384.3 L1837.6,1382.3 L1837.6,1380.3 L1837.6,1378.3 L1837.6,1376.3 L1837.6,1374.3 L1837.6,1372.3 L1837.6,1370.2 L1837.6,1368.2 L1837.6,1366.2 L1837.5,1364.2 L1837.5,1362.2 L1837.5,1360.2 L1837.6,1358.2 L1837.6,1356.2 L1837.6,1354.2 L1837.6,1352.2 L1837.6,1350.2 L1837.6,1348.2 L1837.6,1346.2 L1837.6,1344.2 L1837.6,1342.2 L1837.6,1340.2 L1837.6,1338.2 L1837.6,1336.2 L1837.6,1334.2 L1837.6,1332.2 L1837.6,1330.2 L1837.7,1328.2 L1837.7,1326.2 L1837.7,1324.2 L1837.7,1322.2 L1837.7,1320.2 L1837.7,1318.2 L1837.7,1316.2 L1837.8,1314.2 L1837.8,1312.2 L1837.8,1310.2 L1837.8,1308.2 L1837.8,1306.2 L1837.8,1304.2 L1837.9,1302.2 L1837.9,1300.1 L1837.9,1298.1 L1837.9,1296.1 L1838,1294.1 L1838,1292.1 L1838,1290.1 L1838,1288.1 L1838.1,1286.1 L1838.1,1284.1 L1838.1,1282.1 L1838.1,1280.1 L1838.2,1278.1 L1838.2,1276.1 L1838.2,1274.1 L1838.3,1272.1 L1838.3,1270.1 L1838.3,1268.1 L1838.4,1266.1 L1838.4,1264.1 L1838.4,1262.1 L1838.5,1260.1 L1838.5,1258.1 L1838.6,1256.1 L1838.6,1254.1 L1838.6,1252.1 L1838.7,1250.1 L1838.7,1248.1 L1838.8,1246.1 L1838.8,1244.1 L1838.8,1242.1 L1838.9,1240.1 L1838.9,1238.1 L1839,1236.1 L1839,1234.1 L1839.1,1232.1 L1839.1,1230.1 L1839.2,1228.1 L1839.2,1226.1 L1839.3,1224 L1839.3,1222 L1839.4,1220 L1839.4,1218 L1839.5,1216 L1839.5,1214 L1839.6,1212 L1839.6,1210 L1839.7,1208 L1839.7,1206 L1839.8,1204 L1839.8,1202 L1839.9,1200 L1840,1198 L1840,1196 L1840.1,1194 L1840.1,1192 L1840.2,1190 L1840.3,1188 L1840.3,1186 L1840.4,1184 L1840.5,1182 L1840.5,1180 L1840.6,1178 L1840.7,1176 L1840.7,1174 L1840.8,1172 L1840.9,1170 L1840.9,1168 L1841,1166 L1841.1,1164 L1841.1,1162 L1841.2,1160 L1841.3,1158 L1841.4,1156 L1841.4,1154 L1841.5,1152 L1841.6,1149.9 L1841.7,1147.9 L1841.7,1145.9 L1841.8,1143.9 L1841.9,1141.9 L1842,1139.9 L1842.1,1137.9 L1842.1,1135.9 L1842.2,1133.9 L1842.3,1131.9 L1842.4,1129.9 L1842.5,1127.9 L1842.6,1125.9 L1842.6,1123.9 L1842.7,1121.9 L1842.8,1119.9 L1842.9,1117.9 L1843,1115.9 L1843.1,1113.9 L1843.2,1111.9 Z" fill="#fff" stroke="none"/>
<path d="M1827.1,1043 L1827.1,1045 L1827.2,1047 L1827.2,1049 L1827.3,1051 L1827.4,1053 L1827.4,1055 L1827.5,1057 L1827.5,1059 L1827.6,1061 L1827.6,1063 L1827.6,1065 L1827.7,1067 L1827.7,1069.1 L1827.8,1071.1 L1827.8,1073.1 L1827.8,1075.1 L1827.9,1077.1 L1827.9,1079.1 L1827.9,1081.1 L1828,1083.1 L1828,1085.1 L1828,1087.1 L1828,1089.1 L1828.1,1091.1 L1828.1,1093.1 L1828.1,1095.1 L1828.1,1097.1 L1828.1,1099.1 L1828.1,1101.1 L1828.2,1103.2 L1828.2,1105.2 L1828.2,1107.2 L1828.2,1109.2 L1828.2,1111.2 L1828.2,1113.2 L1828.2,1115.2 L1828.2,1117.2 L1828.2,1119.2 L1828.2,1121.2 L1828.2,1123.2 L1828.2,1125.2 L1828.2,1127.2 L1828.2,1129.2 L1828.2,1131.2 L1828.2,1133.2 L1828.2,1135.2 L1828.2,1137.2 L1828.2,1139.2 L1828.1,1141.2 L1828.1,1143.2 L1828.1,1145.2 L1828.1,1147.3 L1828.1,1149.3 L1828.1,1151.3 L1828.1,1153.3 L1828,1155.3 L1828,1157.3 L1828,1159.3 L1828,1161.3 L1828,1163.3 L1827.9,1165.3 L1827.9,1167.3 L1827.9,1169.3 L1827.9,1171.3 L1827.8,1173.3 L1827.8,1175.3 L1827.8,1177.3 L1827.7,1179.3 L1827.7,1181.3 L1827.7,1183.3 L1827.6,1185.3 L1827.6,1187.3 L1827.6,1189.3 L1827.5,1191.3 L1827.5,1193.3 L1827.5,1195.3 L1827.4,1197.3 L1827.4,1199.3 L1827.4,1201.3 L1827.3,1203.3 L1827.3,1205.3 L1827.2,1207.3 L1827.2,1209.3 L1827.2,1211.3 L1827.1,1213.3 L1827.1,1215.3 L1827,1217.3 L1827,1219.4 L1826.9,1221.4 L1826.9,1223.4 L1826.9,1225.4 L1826.8,1227.4 L1826.8,1229.4 L1826.7,1231.4 L1826.7,1233.4 L1826.6,1235.4 L1826.6,1237.4 L1826.5,1239.4 L1826.5,1241.4 L1826.4,1243.4 L1826.4,1245.4 L1826.3,1247.4 L1826.3,1249.4 L1826.2,1251.4 L1826.2,1253.4 L1826.1,1255.4 L1826.1,1257.4 L1826,1259.4 L1826,1261.4 L1825.9,1263.4 L1825.9,1265.4 L1825.8,1267.4 L1825.8,1269.4 L1825.7,1271.4 L1825.7,1273.4 L1825.6,1275.4 L1825.6,1277.4 L1825.5,1279.4 L1825.5,1281.4 L1825.4,1283.4 L1825.4,1285.4 L1825.3,1287.4 L1825.3,1289.4 L1825.2,1291.4 L1825.2,1293.4 L1825.1,1295.4 L1825.1,1297.4 L1825,1299.4 L1825,1301.4 L1824.9,1303.5 L1824.9,1305.5 L1824.8,1307.5 L1824.8,1309.5 L1824.8,1311.5 L1824.7,1313.5 L1824.7,1315.5 L1824.6,1317.5 L1824.6,1319.5 L1824.5,1321.5 L1824.5,1323.5 L1824.4,1325.5 L1824.4,1327.5 L1824.3,1329.5 L1824.3,1331.5 L1824.2,1333.5 L1824.2,1335.5 L1824.2,1337.5 L1824.1,1339.5 L1824.1,1341.5 L1824,1343.5 L1824,1345.5 L1823.9,1347.5 L1823.9,1349.5 L1823.9,1351.5 L1823.8,1353.5 L1823.8,1355.5 L1823.7,1357.5 L1823.7,1359.5 L1823.7,1361.5 L1823.6,1363.6 L1823.6,1365.6 L1823.6,1367.6 L1823.5,1369.6 L1823.5,1371.6 L1823.5,1373.6 L1823.4,1375.6 L1823.4,1377.6 L1823.4,1379.6 L1823.3,1381.6 L1823.3,1383.6 L1823.3,1385.6 L1823.3,1387.6 L1823.2,1389.6 L1823.2,1391.6 L1823.2,1393.6 L1823.2,1395.6 L1823.1,1397.6 L1823.1,1399.6 L1823.1,1401.7 L1823.1,1403.7 L1823.1,1405.7 L1823,1407.7 L1823,1409.7 L1823,1411.7 L1823,1413.7 L1823,1415.7 L1823,1417.7 L1823,1419.7 L1822.9,1421.7 L1822.9,1423.7 L1822.9,1425.7 L1822.9,1427.7 L1822.9,1429.7 L1822.9,1431.8 L1822.9,1433.8 L1822.9,1435.8 L1822.9,1437.8 L1822.9,1439.8 L1822.9,1441.8 L1822.9,1443.8 L1822.9,1445.8 L1822.9,1447.8 L1822.9,1449.8 L1822.9,1451.8 L1823,1453.8 L1823,1455.8 L1823,1457.9 L1823,1459.9 L1823,1461.9 L1823,1463.9 L1823,1465.9 L1823.1,1467.9 L1823.1,1469.9 L1823.1,1471.9 L1823.1,1473.9 L1823.2,1475.9 L1823.2,1477.9 L1823.2,1480 L1823.3,1482 L1823.3,1484 L1823.3,1486 L1823.4,1488 L1823.4,1490 L1823.5,1492 L1823.5,1494 L1823.6,1496 L1823.6,1498 L1823.6,1500 L1823.7,1502 L1823.8,1504.1 L1823.8,1506.1 L1823.9,1508.1 L1823.9,1510.1 L1824,1512.1 L1824.1,1514.1 L1824.1,1516.1 L1824.2,1518.1 L1824.3,1520.1 L1824.3,1522.1 L1824.4,1524.1 L1824.5,1526.1 L1824.6,1528.1 L1824.6,1530.1 L1824.7,1532.1 L1824.8,1534.1 L1824.9,1536.1 L1825,1538.2 L1825.1,1540.2 L1825.2,1542.2 L1825.3,1544.2 L1825.4,1546.2 L1825.5,1548.2 L1825.6,1550.2 L1825.7,1552.2 L1825.8,1554.2 L1825.9,1556.2 L1826,1558.2 L1826.1,1560.2 L1826.3,1562.2 L1826.4,1564.2 L1826.5,1566.2 L1826.6,1568.2 L1826.8,1570.2 L1826.9,1572.2 L1827,1574.2 L1827.2,1576.2 L1827.3,1578.2 L1827.5,1580.1 L1827.6,1582.1 L1827.8,1584.1 L1827.9,1586.1 L1828.1,1588.1 L1828.2,1590.1 L1828.4,1592.1 L1828.6,1594.1 L1828.7,1596.1 L1828.9,1598.1 L1829.1,1600.1 L1829.3,1602.1 L1829.4,1604.1 L1829.6,1606 L1829.8,1608 L1830,1610 L1830.2,1612 L1830.4,1614 L1830.6,1616 L1830.8,1618 L1831,1620 L1831.2,1621.9 L1831.4,1623.9 L1831.6,1625.9 L1831.8,1627.9 L1832.1,1629.9 L1832.3,1631.8 L1832.5,1633.8 L1832.7,1635.8 L1833,1637.8 L1833.2,1639.8 L1833.5,1641.7 L1833.7,1643.7 L1834,1645.7 L1834.2,1647.7 L1834.5,1649.6 L1834.7,1651.6 L1835,1653.6 L1835.3,1655.6 L1835.6,1657.5 L1835.9,1659.5 L1836.2,1661.5 L1836.5,1663.5 L1836.8,1665.4 L1837.1,1667.4 L1837.4,1669.4 L1837.8,1671.3 L1838.1,1673.3 L1838.5,1675.3 L1838.8,1677.2 L1839.2,1679.2 L1839.6,1681.2 L1840,1683.1 L1840.4,1685.1 L1840.9,1687.1 L1841.3,1689 L1841.7,1691 L1842.2,1693 L1842.7,1694.9 L1843.2,1696.9 L1843.7,1698.9 L1844.2,1700.8 L1844.7,1702.8 L1845.3,1704.8 L1845.8,1706.7 L1846.4,1708.7 L1847,1710.7 L1847.6,1712.6 L1848.2,1714.6 L1848.9,1716.5 L1849.5,1718.5 L1850.2,1720.5 L1850.9,1722.4 L1851.7,1724.4 L1852.4,1726.3 L1853.2,1728.2 L1854,1730.1 L1854.9,1731.9 L1855.8,1733.8 L1856.7,1735.6 L1857.7,1737.4 L1858.7,1739.1 L1859.8,1740.8 L1860.9,1742.5 L1862,1744.1 L1863.2,1745.7 L1864.5,1747.2 L1865.8,1748.7 L1867.2,1750.1 L1868.6,1751.4 L1870.1,1752.7 L1871.7,1754 L1873.3,1755.1 L1875,1756.2 L1876.7,1757.1 L1878.5,1758 L1880.2,1758.7 L1882,1759.3 L1883.8,1759.8 L1885.6,1760.1 L1887.4,1760.2 L1889.2,1760.2 L1890.9,1760 L1892.6,1759.7 L1894.4,1759.2 L1896,1758.5 L1897.7,1757.8 L1899.4,1756.9 L1901,1755.9 L1902.6,1754.7 L1904.2,1753.5 L1905.8,1752.2 L1907.3,1750.8 L1908.8,1749.4 L1910.3,1747.8 L1911.7,1746.2 L1913.2,1744.6 L1914.6,1742.9 L1915.9,1741.2 L1917.3,1739.4 L1918.6,1737.6 L1919.8,1735.9 L1921,1734.1 L1922.2,1732.3 L1923.4,1730.5 L1924.5,1728.7 L1925.6,1727 L1926.7,1725.2 L1927.7,1723.4 L1928.7,1721.6 L1929.7,1719.9 L1930.6,1718.1 L1931.5,1716.3 L1932.4,1714.5 L1933.2,1712.8 L1934,1711 L1934.8,1709.2 L1935.6,1707.4 L1936.4,1705.6 L1937.1,1703.8 L1937.8,1702 L1938.5,1700.1 L1939.1,1698.3 L1939.8,1696.5 L1940.4,1694.6 L1941,1692.7 L1941.6,1690.9 L1942.2,1689 L1942.7,1687.1 L1943.2,1685.2 L1943.7,1683.3 L1944.2,1681.3 L1944.7,1679.4 L1945.2,1677.5 L1945.6,1675.5 L1946,1673.6 L1946.4,1671.6 L1946.8,1669.7 L1947.1,1667.7 L1947.5,1665.7 L1947.8,1663.7 L1948.1,1661.7 L1948.4,1659.8 L1948.7,1657.8 L1949,1655.8 L1949.2,1653.8 L1949.4,1651.7 L1949.6,1649.7 L1949.8,1647.7 L1950,1645.7 L1950.1,1643.7 L1950.3,1641.7 L1950.4,1639.6 L1950.5,1637.6 L1950.6,1635.6 L1950.7,1633.6 L1950.7,1631.6 L1950.8,1629.5 L1950.8,1627.5 L1950.8,1625.5 L1950.8,1623.5 L1950.8,1621.5 L1950.7,1619.5 L1950.7,1617.4 L1950.6,1615.4 L1950.5,1613.4 L1950.4,1611.4 L1950.3,1609.4 L1950.2,1607.4 L1950,1605.4 L1949.9,1603.4 L1949.7,1601.4 L1949.5,1599.4 L1949.3,1597.4 L1949.1,1595.4 L1948.9,1593.5 L1948.7,1591.5 L1948.5,1589.5 L1948.2,1587.5 L1948,1585.5 L1947.7,1583.5 L1947.4,1581.6 L1947.1,1579.6 L1946.8,1577.6 L1946.5,1575.6 L1946.2,1573.7 L1945.9,1571.7 L1945.5,1569.7 L1945.2,1567.7 L1944.9,1565.8 L1944.5,1563.8 L1944.2,1561.8 L1943.8,1559.9 L1943.4,1557.9 L1943,1555.9 L1942.7,1554 L1942.3,1552 L1941.9,1550 L1941.5,1548.1 L1941.1,1546.1 L1940.7,1544.2 L1940.3,1542.2 L1939.9,1540.2 L1939.5,1538.3 L1939,1536.3 L1938.6,1534.4 L1938.2,1532.4 L1937.8,1530.4 L1937.4,1528.5 L1937,1526.5 L1936.5,1524.6 L1936.1,1522.6 L1935.7,1520.6 L1935.3,1518.7 L1934.8,1516.7 L1934.4,1514.8 L1934,1512.8 L1933.6,1510.8 L1933.2,1508.9 L1932.8,1506.9 L1932.4,1504.9 L1932,1503 L1931.6,1501 L1931.2,1499.1 L1930.8,1497.1 L1930.4,1495.1 L1930,1493.2 L1929.6,1491.2 L1929.2,1489.2 L1928.9,1487.2 L1928.5,1485.3 L1928.1,1483.3 L1927.7,1481.3 L1927.4,1479.4 L1927,1477.4 L1926.7,1475.4 L1926.3,1473.4 L1925.9,1471.5 L1925.6,1469.5 L1925.2,1467.5 L1924.9,1465.5 L1924.6,1463.6 L1924.2,1461.6 L1923.9,1459.6 L1923.6,1457.6 L1923.2,1455.7 L1922.9,1453.7 L1922.6,1451.7 L1922.2,1449.7 L1921.9,1447.8 L1921.6,1445.8 L1921.3,1443.8 L1921,1441.8 L1920.7,1439.8 L1920.4,1437.8 L1920.1,1435.9 L1919.8,1433.9 L1919.5,1431.9 L1919.2,1429.9 L1918.9,1427.9 L1918.6,1426 L1918.3,1424 L1918,1422 L1917.7,1420 L1917.4,1418 L1917.1,1416 L1916.9,1414 L1916.6,1412.1 L1916.3,1410.1 L1916,1408.1 L1915.8,1406.1 L1915.5,1404.1 L1915.2,1402.1 L1915,1400.2 L1914.7,1398.2 L1914.4,1396.2 L1914.2,1394.2 L1913.9,1392.2 L1913.6,1390.2 L1913.4,1388.2 L1913.1,1386.2 L1912.9,1384.3 L1912.6,1382.3 L1912.3,1380.3 L1912.1,1378.3 L1911.8,1376.3 L1911.6,1374.3 L1911.3,1372.3 L1911.1,1370.3 L1910.8,1368.4 L1910.5,1366.4 L1910.3,1364.4 L1910,1362.4 L1909.8,1360.4 L1909.5,1358.4 L1909.2,1356.4 L1909,1354.5 L1908.7,1352.5 L1908.5,1350.5 L1908.2,1348.5 L1907.9,1346.5 L1907.7,1344.5 L1907.4,1342.5 L1907.1,1340.5 L1906.8,1338.6 L1906.6,1336.6 L1906.3,1334.6 L1906,1332.6 L1905.7,1330.6 L1905.4,1328.6 L1905.2,1326.7 L1904.9,1324.7 L1904.6,1322.7 L1904.3,1320.7 L1904,1318.7 L1903.7,1316.7 L1903.4,1314.8 L1903.1,1312.8 L1902.8,1310.8 L1902.5,1308.8 L1902.1,1306.8 L1901.8,1304.9 L1901.5,1302.9 L1901.2,1300.9 L1900.9,1298.9 L1900.6,1296.9 L1900.2,1295 L1899.9,1293 L1899.6,1291 L1899.3,1289 L1898.9,1287 L1898.6,1285.1 L1898.3,1283.1 L1898,1281.1 L1897.6,1279.1 L1897.3,1277.1 L1897,1275.2 L1896.7,1273.2 L1896.3,1271.2 L1896,1269.2 L1895.7,1267.3 L1895.3,1265.3 L1895,1263.3 L1894.7,1261.3 L1894.4,1259.3 L1894,1257.4 L1893.7,1255.4 L1893.4,1253.4 L1893.1,1251.4 L1892.7,1249.4 L1892.4,1247.5 L1892.1,1245.5 L1891.8,1243.5 L1891.5,1241.5 L1891.1,1239.6 L1890.8,1237.6 L1890.5,1235.6 L1890.2,1233.6 L1889.9,1231.6 L1889.6,1229.7 L1889.3,1227.7 L1889,1225.7 L1888.6,1223.7 L1888.3,1221.7 L1888,1219.8 L1887.7,1217.8 L1887.4,1215.8 L1887,1213.8 L1886.7,1211.9 L1886.4,1209.9 L1886,1207.9 L1885.7,1205.9 L1885.3,1204 L1885,1202 L1884.6,1200 L1884.2,1198.1 L1883.9,1196.1 L1883.5,1194.2 L1883.1,1192.2 L1882.7,1190.2 L1882.3,1188.3 L1881.8,1186.3 L1881.4,1184.4 L1881,1182.4 L1880.5,1180.5 L1880,1178.5 L1879.6,1176.6 L1879.1,1174.7 L1878.6,1172.7 L1878,1170.8 L1877.5,1168.9 L1877,1166.9 L1876.4,1165 L1875.8,1163.1 L1875.3,1161.2 L1874.7,1159.3 L1874.1,1157.3 L1873.4,1155.4 L1872.8,1153.5 L1872.2,1151.6 L1871.5,1149.7 L1870.9,1147.8 L1870.2,1145.9 L1869.6,1144 L1868.9,1142.1 L1868.2,1140.2 L1867.5,1138.3 L1866.9,1136.4 L1866.2,1134.5 L1865.5,1132.6 L1864.8,1130.7 L1864.1,1128.8 L1863.5,1126.9 L1862.8,1125 L1862.1,1123.1 L1861.5,1121.2 L1860.8,1119.3 L1860.1,1117.4 L1859.5,1115.5 L1858.8,1113.6 L1858.2,1111.7 L1857.6,1109.8 L1857,1107.9 L1856.3,1106 L1855.8,1104.1 L1855.2,1102.2 L1854.6,1100.3 L1854,1098.3 L1853.5,1096.4 L1853,1094.5 L1852.5,1092.6 L1852,1090.6 L1851.5,1088.7 L1851,1086.8 L1850.6,1084.8 L1850.2,1082.9 L1849.8,1080.9 L1849.4,1079 L1849,1077 L1848.7,1075 L1848.4,1073.1 L1848.1,1071.1 L1847.8,1069.1 L1847.6,1067.1 L1847.4,1065.2 L1847.2,1063.2 L1847.1,1061.2 L1847,1059.2 L1846.9,1057.1 L1846.8,1055.1 L1846.8,1053.1 L1846.8,1051.1 L1846.8,1049 L1846.9,1047 L1847,1044.9 L1847.2,1042.9" fill="none" stroke-width="4"/>
<path d="M1826.7,1043 L1826.8,1045 L1826.9,1047 L1827,1049 L1827.1,1051 L1827.3,1053 L1827.6,1055 L1827.8,1057 L1828.1,1059 L1828.4,1060.9 L1828.8,1062.9 L1829.2,1064.8 L1829.6,1066.8 L1830,1068.7 L1830.5,1070.7 L1831,1072.6 L1831.5,1074.6 L1832,1076.5 L1832.6,1078.4 L1833.1,1080.3 L1833.7,1082.3 L1834.3,1084.2 L1834.9,1086.1 L1835.5,1088 L1836.1,1089.9 L1836.7,1091.8 L1837.4,1093.7 L1838,1095.6 L1838.6,1097.5 L1839.3,1099.5 L1839.9,1101.4 L1840.6,1103.3 L1841.2,1105.2 L1841.9,1107.1 L1842.5,1109 L1843.1,1110.9 L1843.8,1112.8 L1844.4,1114.7 L1845,1116.6 L1845.6,1118.5 L1846.3,1120.4 L1846.9,1122.3 L1847.5,1124.2 L1848.1,1126.1 L1848.7,1128 L1849.3,1129.9 L1849.9,1131.9 L1850.5,1133.8 L1851.1,1135.7 L1851.7,1137.6 L1852.3,1139.5 L1852.9,1141.4 L1853.5,1143.3 L1854.1,1145.2 L1854.7,1147.1 L1855.3,1149 L1855.9,1151 L1856.5,1152.9 L1857.1,1154.8 L1857.6,1156.7 L1858.2,1158.6 L1858.8,1160.5 L1859.4,1162.4 L1859.9,1164.4 L1860.5,1166.3 L1861.1,1168.2 L1861.6,1170.1 L1862.2,1172 L1862.8,1174 L1863.3,1175.9 L1863.9,1177.8 L1864.4,1179.7 L1865,1181.7 L1865.5,1183.6 L1866,1185.5 L1866.6,1187.5 L1867.1,1189.4 L1867.6,1191.3 L1868.1,1193.3 L1868.6,1195.2 L1869.2,1197.1 L1869.6,1199.1 L1870.1,1201 L1870.6,1203 L1871.1,1204.9 L1871.6,1206.9 L1872,1208.8 L1872.5,1210.8 L1872.9,1212.7 L1873.3,1214.7 L1873.7,1216.6 L1874.2,1218.6 L1874.6,1220.5 L1875,1222.5 L1875.4,1224.5 L1875.7,1226.4 L1876.1,1228.4 L1876.5,1230.4 L1876.9,1232.3 L1877.2,1234.3 L1877.6,1236.3 L1877.9,1238.2 L1878.3,1240.2 L1878.6,1242.2 L1878.9,1244.2 L1879.2,1246.2 L1879.6,1248.1 L1879.9,1250.1 L1880.2,1252.1 L1880.5,1254.1 L1880.8,1256 L1881.1,1258 L1881.4,1260 L1881.7,1262 L1882,1264 L1882.3,1266 L1882.6,1267.9 L1882.9,1269.9 L1883.2,1271.9 L1883.5,1273.9 L1883.8,1275.9 L1884,1277.9 L1884.3,1279.9 L1884.6,1281.8 L1884.9,1283.8 L1885.2,1285.8 L1885.5,1287.8 L1885.7,1289.8 L1886,1291.8 L1886.3,1293.7 L1886.6,1295.7 L1886.9,1297.7 L1887.1,1299.7 L1887.4,1301.7 L1887.7,1303.7 L1888,1305.6 L1888.3,1307.6 L1888.5,1309.6 L1888.8,1311.6 L1889.1,1313.6 L1889.4,1315.6 L1889.7,1317.5 L1890,1319.5 L1890.2,1321.5 L1890.5,1323.5 L1890.8,1325.5 L1891.1,1327.5 L1891.4,1329.4 L1891.6,1331.4 L1891.9,1333.4 L1892.2,1335.4 L1892.5,1337.4 L1892.8,1339.3 L1893.1,1341.3 L1893.3,1343.3 L1893.6,1345.3 L1893.9,1347.3 L1894.2,1349.3 L1894.5,1351.2 L1894.8,1353.2 L1895,1355.2 L1895.3,1357.2 L1895.6,1359.2 L1895.9,1361.1 L1896.2,1363.1 L1896.5,1365.1 L1896.8,1367.1 L1897,1369.1 L1897.3,1371.1 L1897.6,1373 L1897.9,1375 L1898.2,1377 L1898.5,1379 L1898.8,1381 L1899.1,1382.9 L1899.4,1384.9 L1899.7,1386.9 L1900,1388.9 L1900.2,1390.9 L1900.5,1392.8 L1900.8,1394.8 L1901.1,1396.8 L1901.4,1398.8 L1901.7,1400.8 L1902,1402.8 L1902.3,1404.7 L1902.6,1406.7 L1902.9,1408.7 L1903.2,1410.7 L1903.5,1412.7 L1903.8,1414.6 L1904.1,1416.6 L1904.4,1418.6 L1904.7,1420.6 L1905,1422.6 L1905.3,1424.5 L1905.7,1426.5 L1906,1428.5 L1906.3,1430.5 L1906.6,1432.5 L1906.9,1434.4 L1907.2,1436.4 L1907.5,1438.4 L1907.8,1440.4 L1908.1,1442.4 L1908.5,1444.3 L1908.8,1446.3 L1909.1,1448.3 L1909.4,1450.3 L1909.7,1452.3 L1910.1,1454.2 L1910.4,1456.2 L1910.7,1458.2 L1911,1460.2 L1911.3,1462.2 L1911.7,1464.1 L1912,1466.1 L1912.3,1468.1 L1912.7,1470.1 L1913,1472 L1913.3,1474 L1913.7,1476 L1914,1478 L1914.3,1479.9 L1914.7,1481.9 L1915,1483.9 L1915.3,1485.9 L1915.7,1487.8 L1916,1489.8 L1916.4,1491.8 L1916.7,1493.8 L1917,1495.7 L1917.4,1497.7 L1917.7,1499.7 L1918.1,1501.7 L1918.4,1503.6 L1918.8,1505.6 L1919.1,1507.6 L1919.5,1509.6 L1919.9,1511.5 L1920.2,1513.5 L1920.6,1515.5 L1920.9,1517.4 L1921.3,1519.4 L1921.7,1521.4 L1922,1523.3 L1922.4,1525.3 L1922.8,1527.3 L1923.1,1529.2 L1923.5,1531.2 L1923.9,1533.2 L1924.2,1535.1 L1924.6,1537.1 L1925,1539.1 L1925.4,1541 L1925.7,1543 L1926.1,1545 L1926.5,1546.9 L1926.9,1548.9 L1927.3,1550.9 L1927.6,1552.8 L1928,1554.8 L1928.4,1556.8 L1928.7,1558.7 L1929.1,1560.7 L1929.5,1562.7 L1929.8,1564.6 L1930.2,1566.6 L1930.5,1568.6 L1930.8,1570.5 L1931.2,1572.5 L1931.5,1574.5 L1931.8,1576.4 L1932.2,1578.4 L1932.5,1580.4 L1932.8,1582.3 L1933.1,1584.3 L1933.3,1586.3 L1933.6,1588.3 L1933.9,1590.3 L1934.1,1592.2 L1934.4,1594.2 L1934.6,1596.2 L1934.9,1598.2 L1935.1,1600.2 L1935.3,1602.2 L1935.5,1604.1 L1935.6,1606.1 L1935.8,1608.1 L1936,1610.1 L1936.1,1612.1 L1936.2,1614.1 L1936.4,1616.1 L1936.5,1618.1 L1936.5,1620.1 L1936.6,1622.2 L1936.7,1624.2 L1936.7,1626.2 L1936.7,1628.2 L1936.7,1630.2 L1936.7,1632.2 L1936.7,1634.2 L1936.6,1636.3 L1936.6,1638.3 L1936.5,1640.3 L1936.4,1642.3 L1936.3,1644.3 L1936.1,1646.3 L1936,1648.4 L1935.8,1650.4 L1935.6,1652.4 L1935.4,1654.4 L1935.2,1656.4 L1934.9,1658.4 L1934.7,1660.4 L1934.4,1662.4 L1934.1,1664.4 L1933.7,1666.3 L1933.4,1668.3 L1933,1670.3 L1932.6,1672.3 L1932.2,1674.2 L1931.8,1676.2 L1931.3,1678.1 L1930.8,1680.1 L1930.3,1682 L1929.8,1683.9 L1929.2,1685.9 L1928.7,1687.8 L1928.1,1689.7 L1927.5,1691.6 L1926.8,1693.5 L1926.1,1695.4 L1925.5,1697.2 L1924.7,1699.1 L1924,1700.9 L1923.2,1702.8 L1922.4,1704.6 L1921.6,1706.4 L1920.8,1708.2 L1919.9,1710 L1919,1711.8 L1918.1,1713.6 L1917.1,1715.4 L1916.2,1717.1 L1915.2,1718.8 L1914.1,1720.6 L1913.1,1722.3 L1912,1724 L1910.9,1725.7 L1909.7,1727.3 L1908.6,1729 L1907.4,1730.6 L1906.1,1732.2 L1904.9,1733.8 L1903.6,1735.4 L1902.3,1737 L1900.9,1738.5 L1899.5,1739.9 L1898,1741.3 L1896.5,1742.6 L1894.8,1743.7 L1893.1,1744.8 L1891.4,1745.7 L1889.5,1746.4 L1887.7,1746.9 L1885.9,1747.1 L1884.2,1746.9 L1882.5,1746.5 L1881,1745.7 L1879.5,1744.7 L1878,1743.5 L1876.7,1742.1 L1875.4,1740.5 L1874.2,1738.9 L1873,1737.1 L1871.9,1735.3 L1870.8,1733.4 L1869.8,1731.6 L1868.8,1729.7 L1867.9,1727.9 L1867,1726 L1866.2,1724.2 L1865.4,1722.3 L1864.7,1720.4 L1864,1718.6 L1863.3,1716.7 L1862.6,1714.8 L1862,1712.9 L1861.4,1711 L1860.9,1709.1 L1860.3,1707.2 L1859.8,1705.3 L1859.3,1703.4 L1858.8,1701.4 L1858.4,1699.5 L1857.9,1697.6 L1857.5,1695.6 L1857,1693.7 L1856.6,1691.7 L1856.2,1689.8 L1855.8,1687.8 L1855.4,1685.9 L1855,1683.9 L1854.6,1681.9 L1854.2,1680 L1853.8,1678 L1853.4,1676 L1853.1,1674 L1852.7,1672.1 L1852.4,1670.1 L1852,1668.1 L1851.7,1666.1 L1851.4,1664.2 L1851.1,1662.2 L1850.7,1660.2 L1850.4,1658.2 L1850.1,1656.2 L1849.8,1654.3 L1849.5,1652.3 L1849.2,1650.3 L1849,1648.3 L1848.7,1646.3 L1848.4,1644.3 L1848.1,1642.3 L1847.9,1640.4 L1847.6,1638.4 L1847.4,1636.4 L1847.1,1634.4 L1846.9,1632.4 L1846.7,1630.4 L1846.4,1628.4 L1846.2,1626.4 L1846,1624.5 L1845.8,1622.5 L1845.6,1620.5 L1845.4,1618.5 L1845.2,1616.5 L1845,1614.5 L1844.8,1612.5 L1844.6,1610.5 L1844.4,1608.5 L1844.2,1606.5 L1844.1,1604.5 L1843.9,1602.5 L1843.7,1600.5 L1843.6,1598.6 L1843.4,1596.6 L1843.3,1594.6 L1843.1,1592.6 L1843,1590.6 L1842.8,1588.6 L1842.7,1586.6 L1842.6,1584.6 L1842.4,1582.6 L1842.3,1580.6 L1842.2,1578.6 L1842.1,1576.6 L1841.9,1574.6 L1841.8,1572.6 L1841.7,1570.6 L1841.6,1568.6 L1841.5,1566.6 L1841.4,1564.6 L1841.3,1562.6 L1841.2,1560.6 L1841.1,1558.6 L1841,1556.6 L1840.9,1554.6 L1840.8,1552.6 L1840.8,1550.6 L1840.7,1548.6 L1840.6,1546.6 L1840.5,1544.6 L1840.4,1542.6 L1840.4,1540.6 L1840.3,1538.5 L1840.2,1536.5 L1840.2,1534.5 L1840.1,1532.5 L1840,1530.5 L1840,1528.5 L1839.9,1526.5 L1839.8,1524.5 L1839.8,1522.5 L1839.7,1520.5 L1839.7,1518.5 L1839.6,1516.5 L1839.6,1514.5 L1839.5,1512.5 L1839.4,1510.5 L1839.4,1508.5 L1839.3,1506.5 L1839.3,1504.5 L1839.2,1502.5 L1839.2,1500.5 L1839.2,1498.5 L1839.1,1496.5 L1839.1,1494.5 L1839,1492.5 L1839,1490.5 L1838.9,1488.5 L1838.9,1486.4 L1838.8,1484.4 L1838.8,1482.4 L1838.8,1480.4 L1838.7,1478.4 L1838.7,1476.4 L1838.6,1474.4 L1838.6,1472.4 L1838.6,1470.4 L1838.5,1468.4 L1838.5,1466.4 L1838.5,1464.4 L1838.4,1462.4 L1838.4,1460.4 L1838.3,1458.4 L1838.3,1456.4 L1838.3,1454.4 L1838.3,1452.4 L1838.2,1450.4 L1838.2,1448.4 L1838.2,1446.4 L1838.1,1444.4 L1838.1,1442.4 L1838.1,1440.4 L1838.1,1438.4 L1838,1436.4 L1838,1434.4 L1838,1432.3 L1838,1430.3 L1837.9,1428.3 L1837.9,1426.3 L1837.9,1424.3 L1837.9,1422.3 L1837.8,1420.3 L1837.8,1418.3 L1837.8,1416.3 L1837.8,1414.3 L1837.8,1412.3 L1837.7,1410.3 L1837.7,1408.3 L1837.7,1406.3 L1837.7,1404.3 L1837.7,1402.3 L1837.7,1400.3 L1837.7,1398.3 L1837.6,1396.3 L1837.6,1394.3 L1837.6,1392.3 L1837.6,1390.3 L1837.6,1388.3 L1837.6,1386.3 L1837.6,1384.3 L1837.6,1382.3 L1837.6,1380.3 L1837.6,1378.3 L1837.6,1376.3 L1837.6,1374.3 L1837.6,1372.3 L1837.6,1370.2 L1837.6,1368.2 L1837.6,1366.2 L1837.5,1364.2 L1837.5,1362.2 L1837.5,1360.2 L1837.6,1358.2 L1837.6,1356.2 L1837.6,1354.2 L1837.6,1352.2 L1837.6,1350.2 L1837.6,1348.2 L1837.6,1346.2 L1837.6,1344.2 L1837.6,1342.2 L1837.6,1340.2 L1837.6,1338.2 L1837.6,1336.2 L1837.6,1334.2 L1837.6,1332.2 L1837.6,1330.2 L1837.7,1328.2 L1837.7,1326.2 L1837.7,1324.2 L1837.7,1322.2 L1837.7,1320.2 L1837.7,1318.2 L1837.7,1316.2 L1837.8,1314.2 L1837.8,1312.2 L1837.8,1310.2 L1837.8,1308.2 L1837.8,1306.2 L1837.8,1304.2 L1837.9,1302.2 L1837.9,1300.1 L1837.9,1298.1 L1837.9,1296.1 L1838,1294.1 L1838,1292.1 L1838,1290.1 L1838,1288.1 L1838.1,1286.1 L1838.1,1284.1 L1838.1,1282.1 L1838.1,1280.1 L1838.2,1278.1 L1838.2,1276.1 L1838.2,1274.1 L1838.3,1272.1 L1838.3,1270.1 L1838.3,1268.1 L1838.4,1266.1 L1838.4,1264.1 L1838.4,1262.1 L1838.5,1260.1 L1838.5,1258.1 L1838.6,1256.1 L1838.6,1254.1 L1838.6,1252.1 L1838.7,1250.1 L1838.7,1248.1 L1838.8,1246.1 L1838.8,1244.1 L1838.8,1242.1 L1838.9,1240.1 L1838.9,1238.1 L1839,1236.1 L1839,1234.1 L1839.1,1232.1 L1839.1,1230.1 L1839.2,1228.1 L1839.2,1226.1 L1839.3,1224 L1839.3,1222 L1839.4,1220 L1839.4,1218 L1839.5,1216 L1839.5,1214 L1839.6,1212 L1839.6,1210 L1839.7,1208 L1839.7,1206 L1839.8,1204 L1839.8,1202 L1839.9,1200 L1840,1198 L1840,1196 L1840.1,1194 L1840.1,1192 L1840.2,1190 L1840.3,1188 L1840.3,1186 L1840.4,1184 L1840.5,1182 L1840.5,1180 L1840.6,1178 L1840.7,1176 L1840.7,1174 L1840.8,1172 L1840.9,1170 L1840.9,1168 L1841,1166 L1841.1,1164 L1841.1,1162 L1841.2,1160 L1841.3,1158 L1841.4,1156 L1841.4,1154 L1841.5,1152 L1841.6,1149.9 L1841.7,1147.9 L1841.7,1145.9 L1841.8,1143.9 L1841.9,1141.9 L1842,1139.9 L1842.1,1137.9 L1842.1,1135.9 L1842.2,1133.9 L1842.3,1131.9 L1842.4,1129.9 L1842.5,1127.9 L1842.6,1125.9 L1842.6,1123.9 L1842.7,1121.9 L1842.8,1119.9 L1842.9,1117.9 L1843,1115.9 L1843.1,1113.9 L1843.2,1111.9" fill="none" stroke-width="4"/>
<path d="M1826.7,1043 L1826.8,1045 L1826.9,1047 L1827,1049 L1827.1,1051 L1827.3,1053 L1827.6,1055 L1827.8,1057 L1828.1,1059 L1828.4,1060.9 L1828.8,1062.9 L1829.2,1064.8 L1829.6,1066.8 L1830,1068.7 L1830.5,1070.7 L1831,1072.6 L1831.5,1074.6 L1832,1076.5 L1832.6,1078.4 L1833.1,1080.3 L1833.7,1082.3 L1834.3,1084.2 L1834.9,1086.1 L1835.5,1088 L1836.1,1089.9 L1836.7,1091.8 L1837.4,1093.7 L1838,1095.6 L1838.6,1097.5 L1839.3,1099.5 L1839.9,1101.4 L1840.6,1103.3 L1841.2,1105.2 L1841.9,1107.1 L1842.5,1109 L1843.1,1110.9 L1843.8,1112.8 L1844.4,1114.7 L1845,1116.6 L1845.6,1118.5 L1846.3,1120.4 L1846.9,1122.3 L1847.5,1124.2 L1848.1,1126.1 L1848.7,1128 L1849.3,1129.9 L1849.9,1131.9 L1850.5,1133.8 L1851.1,1135.7 L1851.7,1137.6 L1852.3,1139.5 L1852.9,1141.4 L1853.5,1143.3 L1854.1,1145.2 L1854.7,1147.1 L1855.3,1149 L1855.9,1151 L1856.5,1152.9 L1857.1,1154.8 L1857.6,1156.7 L1858.2,1158.6 L1858.8,1160.5 L1859.4,1162.4 L1859.9,1164.4 L1860.5,1166.3 L1861.1,1168.2 L1861.6,1170.1 L1862.2,1172 L1862.8,1174 L1863.3,1175.9 L1863.9,1177.8 L1864.4,1179.7 L1865,1181.7 L1865.5,1183.6 L1866,1185.5 L1866.6,1187.5 L1867.1,1189.4 L1867.6,1191.3 L1868.1,1193.3 L1868.6,1195.2 L1869.2,1197.1 L1869.6,1199.1 L1870.1,1201 L1870.6,1203 L1871.1,1204.9 L1871.6,1206.9 L1872,1208.8 L1872.5,1210.8 L1872.9,1212.7 L1873.3,1214.7 L1873.7,1216.6 L1874.2,1218.6 L1874.6,1220.5 L1875,1222.5 L1875.4,1224.5 L1875.7,1226.4 L1876.1,1228.4 L1876.5,1230.4 L1876.9,1232.3 L1877.2,1234.3 L1877.6,1236.3 L1877.9,1238.2 L1878.3,1240.2 L1878.6,1242.2 L1878.9,1244.2 L1879.2,1246.2 L1879.6,1248.1 L1879.9,1250.1 L1880.2,1252.1 L1880.5,1254.1 L1880.8,1256 L1881.1,1258 L1881.4,1260 L1881.7,1262 L1882,1264 L1882.3,1266 L1882.6,1267.9 L1882.9,1269.9 L1883.2,1271.9 L1883.5,1273.9 L1883.8,1275.9 L1884,1277.9 L1884.3,1279.9 L1884.6,1281.8 L1884.9,1283.8 L1885.2,1285.8 L1885.5,1287.8 L1885.7,1289.8 L1886,1291.8 L1886.3,1293.7 L1886.6,1295.7 L1886.9,1297.7 L1887.1,1299.7 L1887.4,1301.7 L1887.7,1303.7 L1888,1305.6 L1888.3,1307.6 L1888.5,1309.6 L1888.8,1311.6 L1889.1,1313.6 L1889.4,1315.6 L1889.7,1317.5 L1890,1319.5 L1890.2,1321.5 L1890.5,1323.5 L1890.8,1325.5 L1891.1,1327.5 L1891.4,1329.4 L1891.6,1331.4 L1891.9,1333.4 L1892.2,1335.4 L1892.5,1337.4 L1892.8,1339.3 L1893.1,1341.3 L1893.3,1343.3 L1893.6,1345.3 L1893.9,1347.3 L1894.2,1349.3 L1894.5,1351.2 L1894.8,1353.2 L1895,1355.2 L1895.3,1357.2 L1895.6,1359.2 L1895.9,1361.1 L1896.2,1363.1 L1896.5,1365.1 L1896.8,1367.1 L1897,1369.1 L1897.3,1371.1 L1897.6,1373 L1897.9,1375 L1898.2,1377 L1898.5,1379 L1898.8,1381 L1899.1,1382.9 L1899.4,1384.9 L1899.7,1386.9 L1900,1388.9 L1900.2,1390.9 L1900.5,1392.8 L1900.8,1394.8 L1901.1,1396.8 L1901.4,1398.8 L1901.7,1400.8 L1902,1402.8 L1902.3,1404.7 L1902.6,1406.7 L1902.9,1408.7 L1903.2,1410.7 L1903.5,1412.7 L1903.8,1414.6 L1904.1,1416.6 L1904.4,1418.6 L1904.7,1420.6 L1905,1422.6 L1905.3,1424.5 L1905.7,1426.5 L1906,1428.5 L1906.3,1430.5 L1906.6,1432.5 L1906.9,1434.4 L1907.2,1436.4 L1907.5,1438.4 L1907.8,1440.4 L1908.1,1442.4 L1908.5,1444.3 L1921.3,1443.8 L1921,1441.8 L1920.7,1439.8 L1920.4,1437.8 L1920.1,1435.9 L1919.8,1433.9 L1919.5,1431.9 L1919.2,1429.9 L1918.9,1427.9 L1918.6,1426 L1918.3,1424 L1918,1422 L1917.7,1420 L1917.4,1418 L1917.1,1416 L1916.9,1414 L1916.6,1412.1 L1916.3,1410.1 L1916,1408.1 L1915.8,1406.1 L1915.5,1404.1 L1915.2,1402.1 L1915,1400.2 L1914.7,1398.2 L1914.4,1396.2 L1914.2,1394.2 L1913.9,1392.2 L1913.6,1390.2 L1913.4,1388.2 L1913.1,1386.2 L1912.9,1384.3 L1912.6,1382.3 L1912.3,1380.3 L1912.1,1378.3 L1911.8,1376.3 L1911.6,1374.3 L1911.3,1372.3 L1911.1,1370.3 L1910.8,1368.4 L1910.5,1366.4 L1910.3,1364.4 L1910,1362.4 L1909.8,1360.4 L1909.5,1358.4 L1909.2,1356.4 L1909,1354.5 L1908.7,1352.5 L1908.5,1350.5 L1908.2,1348.5 L1907.9,1346.5 L1907.7,1344.5 L1907.4,1342.5 L1907.1,1340.5 L1906.8,1338.6 L1906.6,1336.6 L1906.3,1334.6 L1906,1332.6 L1905.7,1330.6 L1905.4,1328.6 L1905.2,1326.7 L1904.9,1324.7 L1904.6,1322.7 L1904.3,1320.7 L1904,1318.7 L1903.7,1316.7 L1903.4,1314.8 L1903.1,1312.8 L1902.8,1310.8 L1902.5,1308.8 L1902.1,1306.8 L1901.8,1304.9 L1901.5,1302.9 L1901.2,1300.9 L1900.9,1298.9 L1900.6,1296.9 L1900.2,1295 L1899.9,1293 L1899.6,1291 L1899.3,1289 L1898.9,1287 L1898.6,1285.1 L1898.3,1283.1 L1898,1281.1 L1897.6,1279.1 L1897.3,1277.1 L1897,1275.2 L1896.7,1273.2 L1896.3,1271.2 L1896,1269.2 L1895.7,1267.3 L1895.3,1265.3 L1895,1263.3 L1894.7,1261.3 L1894.4,1259.3 L1894,1257.4 L1893.7,1255.4 L1893.4,1253.4 L1893.1,1251.4 L1892.7,1249.4 L1892.4,1247.5 L1892.1,1245.5 L1891.8,1243.5 L1891.5,1241.5 L1891.1,1239.6 L1890.8,1237.6 L1890.5,1235.6 L1890.2,1233.6 L1889.9,1231.6 L1889.6,1229.7 L1889.3,1227.7 L1889,1225.7 L1888.6,1223.7 L1888.3,1221.7 L1888,1219.8 L1887.7,1217.8 L1887.4,1215.8 L1887,1213.8 L1886.7,1211.9 L1886.4,1209.9 L1886,1207.9 L1885.7,1205.9 L1885.3,1204 L1885,1202 L1884.6,1200 L1884.2,1198.1 L1883.9,1196.1 L1883.5,1194.2 L1883.1,1192.2 L1882.7,1190.2 L1882.3,1188.3 L1881.8,1186.3 L1881.4,1184.4 L1881,1182.4 L1880.5,1180.5 L1880,1178.5 L1879.6,1176.6 L1879.1,1174.7 L1878.6,1172.7 L1878,1170.8 L1877.5,1168.9 L1877,1166.9 L1876.4,1165 L1875.8,1163.1 L1875.3,1161.2 L1874.7,1159.3 L1874.1,1157.3 L1873.4,1155.4 L1872.8,1153.5 L1872.2,1151.6 L1871.5,1149.7 L1870.9,1147.8 L1870.2,1145.9 L1869.6,1144 L1868.9,1142.1 L1868.2,1140.2 L1867.5,1138.3 L1866.9,1136.4 L1866.2,1134.5 L1865.5,1132.6 L1864.8,1130.7 L1864.1,1128.8 L1863.5,1126.9 L1862.8,1125 L1862.1,1123.1 L1861.5,1121.2 L1860.8,1119.3 L1860.1,1117.4 L1859.5,1115.5 L1858.8,1113.6 L1858.2,1111.7 L1857.6,1109.8 L1857,1107.9 L1856.3,1106 L1855.8,1104.1 L1855.2,1102.2 L1854.6,1100.3 L1854,1098.3 L1853.5,1096.4 L1853,1094.5 L1852.5,1092.6 L1852,1090.6 L1851.5,1088.7 L1851,1086.8 L1850.6,1084.8 L1850.2,1082.9 L1849.8,1080.9 L1849.4,1079 L1849,1077 L1848.7,1075 L1848.4,1073.1 L1848.1,1071.1 L1847.8,1069.1 L1847.6,1067.1 L1847.4,1065.2 L1847.2,1063.2 L1847.1,1061.2 L1847,1059.2 L1846.9,1057.1 L1846.8,1055.1 L1846.8,1053.1 L1846.8,1051.1 L1846.8,1049 L1846.9,1047 L1847,1044.9 L1847.2,1042.9 Z" fill="#fff" stroke="none"/>
<path d="M1826.7,1043 L1826.8,1045 L1826.9,1047 L1827,1049 L1827.1,1051 L1827.3,1053 L1827.6,1055 L1827.8,1057 L1828.1,1059 L1828.4,1060.9 L1828.8,1062.9 L1829.2,1064.8 L1829.6,1066.8 L1830,1068.7 L1830.5,1070.7 L1831,1072.6 L1831.5,1074.6 L1832,1076.5 L1832.6,1078.4 L1833.1,1080.3 L1833.7,1082.3 L1834.3,1084.2 L1834.9,1086.1 L1835.5,1088 L1836.1,1089.9 L1836.7,1091.8 L1837.4,1093.7 L1838,1095.6 L1838.6,1097.5 L1839.3,1099.5 L1839.9,1101.4 L1840.6,1103.3 L1841.2,1105.2 L1841.9,1107.1 L1842.5,1109 L1843.1,1110.9 L1843.8,1112.8 L1844.4,1114.7 L1845,1116.6 L1845.6,1118.5 L1846.3,1120.4 L1846.9,1122.3 L1847.5,1124.2 L1848.1,1126.1 L1848.7,1128 L1849.3,1129.9 L1849.9,1131.9 L1850.5,1133.8 L1851.1,1135.7 L1851.7,1137.6 L1852.3,1139.5 L1852.9,1141.4 L1853.5,1143.3 L1854.1,1145.2 L1854.7,1147.1 L1855.3,1149 L1855.9,1151 L1856.5,1152.9 L1857.1,1154.8 L1857.6,1156.7 L1858.2,1158.6 L1858.8,1160.5 L1859.4,1162.4 L1859.9,1164.4 L1860.5,1166.3 L1861.1,1168.2 L1861.6,1170.1 L1862.2,1172 L1862.8,1174 L1863.3,1175.9 L1863.9,1177.8 L1864.4,1179.7 L1865,1181.7 L1865.5,1183.6 L1866,1185.5 L1866.6,1187.5 L1867.1,1189.4 L1867.6,1191.3 L1868.1,1193.3 L1868.6,1195.2 L1869.2,1197.1 L1869.6,1199.1 L1870.1,1201 L1870.6,1203 L1871.1,1204.9 L1871.6,1206.9 L1872,1208.8 L1872.5,1210.8 L1872.9,1212.7 L1873.3,1214.7 L1873.7,1216.6 L1874.2,1218.6 L1874.6,1220.5 L1875,1222.5 L1875.4,1224.5 L1875.7,1226.4 L1876.1,1228.4 L1876.5,1230.4 L1876.9,1232.3 L1877.2,1234.3 L1877.6,1236.3 L1877.9,1238.2 L1878.3,1240.2 L1878.6,1242.2 L1878.9,1244.2 L1879.2,1246.2 L1879.6,1248.1 L1879.9,1250.1 L1880.2,1252.1 L1880.5,1254.1 L1880.8,1256 L1881.1,1258 L1881.4,1260 L1881.7,1262 L1882,1264 L1882.3,1266 L1882.6,1267.9 L1882.9,1269.9 L1883.2,1271.9 L1883.5,1273.9 L1883.8,1275.9 L1884,1277.9 L1884.3,1279.9 L1884.6,1281.8 L1884.9,1283.8 L1885.2,1285.8 L1885.5,1287.8 L1885.7,1289.8 L1886,1291.8 L1886.3,1293.7 L1886.6,1295.7 L1886.9,1297.7 L1887.1,1299.7 L1887.4,1301.7 L1887.7,1303.7 L1888,1305.6 L1888.3,1307.6 L1888.5,1309.6 L1888.8,1311.6 L1889.1,1313.6 L1889.4,1315.6 L1889.7,1317.5 L1890,1319.5 L1890.2,1321.5 L1890.5,1323.5 L1890.8,1325.5 L1891.1,1327.5 L1891.4,1329.4 L1891.6,1331.4 L1891.9,1333.4 L1892.2,1335.4 L1892.5,1337.4 L1892.8,1339.3 L1893.1,1341.3 L1893.3,1343.3 L1893.6,1345.3 L1893.9,1347.3 L1894.2,1349.3 L1894.5,1351.2 L1894.8,1353.2 L1895,1355.2 L1895.3,1357.2 L1895.6,1359.2 L1895.9,1361.1 L1896.2,1363.1 L1896.5,1365.1 L1896.8,1367.1 L1897,1369.1 L1897.3,1371.1 L1897.6,1373 L1897.9,1375 L1898.2,1377 L1898.5,1379 L1898.8,1381 L1899.1,1382.9 L1899.4,1384.9 L1899.7,1386.9 L1900,1388.9 L1900.2,1390.9 L1900.5,1392.8 L1900.8,1394.8 L1901.1,1396.8 L1901.4,1398.8 L1901.7,1400.8 L1902,1402.8 L1902.3,1404.7 L1902.6,1406.7 L1902.9,1408.7 L1903.2,1410.7 L1903.5,1412.7 L1903.8,1414.6 L1904.1,1416.6 L1904.4,1418.6 L1904.7,1420.6 L1905,1422.6 L1905.3,1424.5 L1905.7,1426.5 L1906,1428.5 L1906.3,1430.5 L1906.6,1432.5 L1906.9,1434.4 L1907.2,1436.4 L1907.5,1438.4 L1907.8,1440.4 L1908.1,1442.4 L1908.5,1444.3" fill="none" stroke-width="4"/>
<path d="M1921.3,1443.8 L1921,1441.8 L1920.7,1439.8 L1920.4,1437.8 L1920.1,1435.9 L1919.8,1433.9 L1919.5,1431.9 L1919.2,1429.9 L1918.9,1427.9 L1918.6,1426 L1918.3,1424 L1918,1422 L1917.7,1420 L1917.4,1418 L1917.1,1416 L1916.9,1414 L1916.6,1412.1 L1916.3,1410.1 L1916,1408.1 L1915.8,1406.1 L1915.5,1404.1 L1915.2,1402.1 L1915,1400.2 L1914.7,1398.2 L1914.4,1396.2 L1914.2,1394.2 L1913.9,1392.2 L1913.6,1390.2 L1913.4,1388.2 L1913.1,1386.2 L1912.9,1384.3 L1912.6,1382.3 L1912.3,1380.3 L1912.1,1378.3 L1911.8,1376.3 L1911.6,1374.3 L1911.3,1372.3 L1911.1,1370.3 L1910.8,1368.4 L1910.5,1366.4 L1910.3,1364.4 L1910,1362.4 L1909.8,1360.4 L1909.5,1358.4 L1909.2,1356.4 L1909,1354.5 L1908.7,1352.5 L1908.5,1350.5 L1908.2,1348.5 L1907.9,1346.5 L1907.7,1344.5 L1907.4,1342.5 L1907.1,1340.5 L1906.8,1338.6 L1906.6,1336.6 L1906.3,1334.6 L1906,1332.6 L1905.7,1330.6 L1905.4,1328.6 L1905.2,1326.7 L1904.9,1324.7 L1904.6,1322.7 L1904.3,1320.7 L1904,1318.7 L1903.7,1316.7 L1903.4,1314.8 L1903.1,1312.8 L1902.8,1310.8 L1902.5,1308.8 L1902.1,1306.8 L1901.8,1304.9 L1901.5,1302.9 L1901.2,1300.9 L1900.9,1298.9 L1900.6,1296.9 L1900.2,1295 L1899.9,1293 L1899.6,1291 L1899.3,1289 L1898.9,1287 L1898.6,1285.1 L1898.3,1283.1 L1898,1281.1 L1897.6,1279.1 L1897.3,1277.1 L1897,1275.2 L1896.7,1273.2 L1896.3,1271.2 L1896,1269.2 L1895.7,1267.3 L1895.3,1265.3 L1895,1263.3 L1894.7,1261.3 L1894.4,1259.3 L1894,1257.4 L1893.7,1255.4 L1893.4,1253.4 L1893.1,1251.4 L1892.7,1249.4 L1892.4,1247.5 L1892.1,1245.5 L1891.8,1243.5 L1891.5,1241.5 L1891.1,1239.6 L1890.8,1237.6 L1890.5,1235.6 L1890.2,1233.6 L1889.9,1231.6 L1889.6,1229.7 L1889.3,1227.7 L1889,1225.7 L1888.6,1223.7 L1888.3,1221.7 L1888,1219.8 L1887.7,1217.8 L1887.4,1215.8 L1887,1213.8 L1886.7,1211.9 L1886.4,1209.9 L1886,1207.9 L1885.7,1205.9 L1885.3,1204 L1885,1202 L1884.6,1200 L1884.2,1198.1 L1883.9,1196.1 L1883.5,1194.2 L1883.1,1192.2 L1882.7,1190.2 L1882.3,1188.3 L1881.8,1186.3 L1881.4,1184.4 L1881,1182.4 L1880.5,1180.5 L1880,1178.5 L1879.6,1176.6 L1879.1,1174.7 L1878.6,1172.7 L1878,1170.8 L1877.5,1168.9 L1877,1166.9 L1876.4,1165 L1875.8,1163.1 L1875.3,1161.2 L1874.7,1159.3 L1874.1,1157.3 L1873.4,1155.4 L1872.8,1153.5 L1872.2,1151.6 L1871.5,1149.7 L1870.9,1147.8 L1870.2,1145.9 L1869.6,1144 L1868.9,1142.1 L1868.2,1140.2 L1867.5,1138.3 L1866.9,1136.4 L1866.2,1134.5 L1865.5,1132.6 L1864.8,1130.7 L1864.1,1128.8 L1863.5,1126.9 L1862.8,1125 L1862.1,1123.1 L1861.5,1121.2 L1860.8,1119.3 L1860.1,1117.4 L1859.5,1115.5 L1858.8,1113.6 L1858.2,1111.7 L1857.6,1109.8 L1857,1107.9 L1856.3,1106 L1855.8,1104.1 L1855.2,1102.2 L1854.6,1100.3 L1854,1098.3 L1853.5,1096.4 L1853,1094.5 L1852.5,1092.6 L1852,1090.6 L1851.5,1088.7 L1851,1086.8 L1850.6,1084.8 L1850.2,1082.9 L1849.8,1080.9 L1849.4,1079 L1849,1077 L1848.7,1075 L1848.4,1073.1 L1848.1,1071.1 L1847.8,1069.1 L1847.6,1067.1 L1847.4,1065.2 L1847.2,1063.2 L1847.1,1061.2 L1847,1059.2 L1846.9,1057.1 L1846.8,1055.1 L1846.8,1053.1 L1846.8,1051.1 L1846.8,1049 L1846.9,1047 L1847,1044.9 L1847.2,1042.9" fill="none" stroke-width="4"/>
<rect x="1822.8" y="698.8" width="7" height="264.2" fill="#000" stroke="none"/>
<path d="M1829.8,700.5 H1842.1 A7,7 0 0 1 1849.1,707.5 V963" fill="none" stroke-width="3.8"/>
<line x1="1822.8" y1="963.5" x2="1851" y2="963.5" stroke-width="3.8"/>
<rect x="1821.8" y="966" width="30.5" height="23.8" fill="#fff" stroke-width="3.6"/>
<path d="M1821.8,970 H1814.2 V998.8 H1824.7 M1852.3,970 H1859 V998.8 H1849.4" fill="none" stroke-width="3.6"/>
<path d="M1824.7,989.8 V1013.1 M1849.4,989.8 V1013.1 M1824.7,1002.3 H1849.4" fill="none" stroke-width="3.65"/>
<rect x="1818" y="1013.1" width="38.1" height="17.4" fill="#fff" stroke-width="3.6"/>
<line x1="1837.2" y1="1013.1" x2="1837.2" y2="1030.5" stroke-width="3.6"/>
<rect x="1824.1" y="1030.5" width="25.9" height="12.2" fill="#fff" stroke-width="3.6"/>
<line x1="1797.1" y1="1823.1" x2="1797.1" y2="1848.6" stroke-width="3.6"/>
<line x1="1876" y1="1823.1" x2="1876" y2="1848.6" stroke-width="3.6"/>
<line x1="1797.1" y1="1835.9" x2="1876" y2="1835.9" stroke-width="3.6"/>
<path d="M1797.7,1864 V1858.6 H1809.6 Q1812.1,1858.6 1812.1,1861.1 V1866.4 L1799.9,1869.6 Q1797.7,1870 1797.7,1872.5 V1879.1 H1813.5 M1818.1,1878.8 h2.9 M1824.8,1858.6 H1837.5 Q1840,1858.6 1840,1861.1 V1879.1 H1828.4 M1826.2,1858.6 V1867.7 Q1826.2,1870.3 1828.7,1870.3 H1840 M1863,1858.6 H1848.2 V1867.5 H1859.1 Q1861.6,1867.5 1861.6,1870 V1876.6 Q1861.6,1879.1 1859.1,1879.1 H1849.2 M1872.2,1855.6 L1869.4,1864.8 M1878.6,1855.6 L1875.8,1864.8" fill="none" stroke-width="3.1"/>
</g></svg></body></html>
